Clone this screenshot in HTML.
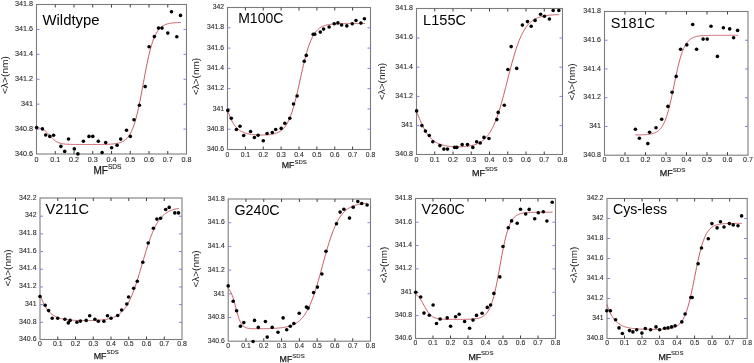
<!DOCTYPE html><html><head><meta charset="utf-8"><style>html,body{margin:0;padding:0;background:#fff;width:754px;height:363px;overflow:hidden}svg{display:block;will-change:transform}text{font-family:"Liberation Sans",sans-serif}</style></head><body>
<svg width="754" height="363" viewBox="0 0 754 363">
<rect width="754" height="363" fill="#fff"/>
<g><polyline points="36.60,127.50 37.32,127.61 38.04,127.74 38.77,127.90 39.49,128.09 40.21,128.30 40.93,128.55 41.65,128.84 42.38,129.18 43.10,129.56 43.82,129.99 44.54,130.48 45.26,131.02 45.99,131.62 46.71,132.27 47.43,132.97 48.15,133.70 48.87,134.47 49.60,135.26 50.32,136.05 51.04,136.84 51.76,137.61 52.48,138.35 53.21,139.05 53.93,139.70 54.65,140.31 55.37,140.86 56.09,141.35 56.82,141.79 57.54,142.18 58.26,142.52 58.98,142.81 59.70,143.07 60.43,143.29 61.15,143.48 61.87,143.64 62.59,143.78 63.31,143.89 64.04,143.99 64.76,144.07 65.48,144.14 66.20,144.20 66.92,144.25 67.65,144.29 68.37,144.32 69.09,144.35 69.81,144.38 70.53,144.40 71.26,144.41 71.98,144.43 72.70,144.44 73.42,144.45 74.14,144.46 74.87,144.46 75.59,144.47 76.31,144.47 77.03,144.48 77.75,144.48 78.48,144.48 79.20,144.49 79.92,144.49 80.64,144.49 81.36,144.49 82.09,144.49 82.81,144.49 83.53,144.49 84.25,144.49 84.97,144.49 85.70,144.49 86.42,144.49 87.14,144.49 87.86,144.49 88.58,144.49 89.31,144.49 90.03,144.49 90.75,144.49 91.47,144.49 92.19,144.49 92.92,144.48 93.64,144.48 94.36,144.48 95.08,144.48 95.80,144.47 96.53,144.47 97.25,144.47 97.97,144.46 98.69,144.46 99.41,144.45 100.14,144.45 100.86,144.44 101.58,144.43 102.30,144.42 103.02,144.41 103.75,144.40 104.47,144.38 105.19,144.36 105.91,144.35 106.63,144.33 107.36,144.30 108.08,144.27 108.80,144.24 109.52,144.21 110.24,144.17 110.97,144.12 111.69,144.07 112.41,144.01 113.13,143.94 113.85,143.87 114.58,143.78 115.30,143.68 116.02,143.57 116.74,143.44 117.46,143.30 118.19,143.14 118.91,142.95 119.63,142.74 120.35,142.50 121.07,142.23 121.80,141.93 122.52,141.58 123.24,141.19 123.96,140.75 124.68,140.25 125.41,139.69 126.13,139.06 126.85,138.35 127.57,137.55 128.29,136.66 129.02,135.66 129.74,134.54 130.46,133.29 131.18,131.91 131.90,130.38 132.63,128.68 133.35,126.82 134.07,124.78 134.79,122.56 135.51,120.14 136.24,117.53 136.96,114.72 137.68,111.72 138.40,108.54 139.12,105.18 139.85,101.67 140.57,98.02 141.29,94.25 142.01,90.40 142.73,86.49 143.46,82.55 144.18,78.62 144.90,74.73 145.62,70.91 146.34,67.19 147.07,63.60 147.79,60.15 148.51,56.86 149.23,53.76 149.95,50.84 150.68,48.12 151.40,45.59 152.12,43.26 152.84,41.11 153.56,39.15 154.29,37.36 155.01,35.74 155.73,34.28 156.45,32.95 157.17,31.76 157.90,30.70 158.62,29.74 159.34,28.89 160.06,28.13 160.78,27.46 161.51,26.86 162.23,26.32 162.95,25.85 163.67,25.43 164.39,25.06 165.12,24.73 165.84,24.45 166.56,24.19 167.28,23.96 168.00,23.77 168.73,23.59 169.45,23.44 170.17,23.30 170.89,23.18 171.61,23.07 172.34,22.98 173.06,22.90 173.78,22.83 174.50,22.76 175.22,22.71 175.95,22.66 176.67,22.61 177.39,22.58 178.11,22.54 178.83,22.51 179.56,22.49 180.28,22.47 181.00,22.45" fill="none" stroke="#c85a64" stroke-width="1" stroke-linejoin="round"/><rect x="36.50" y="4.50" width="150.00" height="149.50" fill="none" stroke="#7c7c7c" stroke-width="1.1"/><line x1="55.25" y1="154.00" x2="55.25" y2="151.00" stroke="#404040" stroke-width="1"/><line x1="55.25" y1="4.50" x2="55.25" y2="7.50" stroke="#404040" stroke-width="1"/><line x1="74.00" y1="154.00" x2="74.00" y2="151.00" stroke="#404040" stroke-width="1"/><line x1="74.00" y1="4.50" x2="74.00" y2="7.50" stroke="#404040" stroke-width="1"/><line x1="92.75" y1="154.00" x2="92.75" y2="151.00" stroke="#404040" stroke-width="1"/><line x1="92.75" y1="4.50" x2="92.75" y2="7.50" stroke="#404040" stroke-width="1"/><line x1="111.50" y1="154.00" x2="111.50" y2="151.00" stroke="#404040" stroke-width="1"/><line x1="111.50" y1="4.50" x2="111.50" y2="7.50" stroke="#404040" stroke-width="1"/><line x1="130.25" y1="154.00" x2="130.25" y2="151.00" stroke="#404040" stroke-width="1"/><line x1="130.25" y1="4.50" x2="130.25" y2="7.50" stroke="#404040" stroke-width="1"/><line x1="149.00" y1="154.00" x2="149.00" y2="151.00" stroke="#404040" stroke-width="1"/><line x1="149.00" y1="4.50" x2="149.00" y2="7.50" stroke="#404040" stroke-width="1"/><line x1="167.75" y1="154.00" x2="167.75" y2="151.00" stroke="#404040" stroke-width="1"/><line x1="167.75" y1="4.50" x2="167.75" y2="7.50" stroke="#404040" stroke-width="1"/><line x1="36.50" y1="129.08" x2="39.50" y2="129.08" stroke="#8080e8" stroke-width="1"/><line x1="186.50" y1="129.08" x2="183.50" y2="129.08" stroke="#8080e8" stroke-width="1"/><line x1="36.50" y1="104.17" x2="39.50" y2="104.17" stroke="#8080e8" stroke-width="1"/><line x1="186.50" y1="104.17" x2="183.50" y2="104.17" stroke="#8080e8" stroke-width="1"/><line x1="36.50" y1="79.25" x2="39.50" y2="79.25" stroke="#8080e8" stroke-width="1"/><line x1="186.50" y1="79.25" x2="183.50" y2="79.25" stroke="#8080e8" stroke-width="1"/><line x1="36.50" y1="54.33" x2="39.50" y2="54.33" stroke="#8080e8" stroke-width="1"/><line x1="186.50" y1="54.33" x2="183.50" y2="54.33" stroke="#8080e8" stroke-width="1"/><line x1="36.50" y1="29.42" x2="39.50" y2="29.42" stroke="#8080e8" stroke-width="1"/><line x1="186.50" y1="29.42" x2="183.50" y2="29.42" stroke="#8080e8" stroke-width="1"/><circle cx="36.6" cy="127.6" r="1.80" fill="#000"/><circle cx="42.4" cy="128.9" r="1.80" fill="#000"/><circle cx="45.7" cy="135.0" r="1.80" fill="#000"/><circle cx="49.8" cy="136.4" r="1.80" fill="#000"/><circle cx="53.6" cy="135.2" r="1.80" fill="#000"/><circle cx="60.9" cy="146.4" r="1.80" fill="#000"/><circle cx="64.7" cy="151.4" r="1.80" fill="#000"/><circle cx="68.5" cy="139.0" r="1.80" fill="#000"/><circle cx="74.3" cy="148.9" r="1.80" fill="#000"/><circle cx="77.9" cy="153.9" r="1.80" fill="#000"/><circle cx="83.4" cy="141.3" r="1.80" fill="#000"/><circle cx="89.0" cy="136.4" r="1.80" fill="#000"/><circle cx="92.8" cy="136.4" r="1.80" fill="#000"/><circle cx="98.3" cy="141.3" r="1.80" fill="#000"/><circle cx="102.1" cy="152.6" r="1.80" fill="#000"/><circle cx="105.7" cy="142.6" r="1.80" fill="#000"/><circle cx="111.6" cy="147.7" r="1.80" fill="#000"/><circle cx="117.1" cy="145.2" r="1.80" fill="#000"/><circle cx="120.7" cy="139.1" r="1.80" fill="#000"/><circle cx="126.5" cy="130.3" r="1.80" fill="#000"/><circle cx="130.3" cy="136.4" r="1.80" fill="#000"/><circle cx="134.0" cy="119.8" r="1.80" fill="#000"/><circle cx="139.4" cy="105.3" r="1.80" fill="#000"/><circle cx="145.2" cy="86.6" r="1.80" fill="#000"/><circle cx="149.1" cy="46.7" r="1.80" fill="#000"/><circle cx="154.4" cy="36.6" r="1.80" fill="#000"/><circle cx="158.5" cy="28.1" r="1.80" fill="#000"/><circle cx="162.0" cy="28.1" r="1.80" fill="#000"/><circle cx="167.8" cy="33.1" r="1.80" fill="#000"/><circle cx="171.5" cy="11.7" r="1.80" fill="#000"/><circle cx="176.8" cy="36.7" r="1.80" fill="#000"/><circle cx="180.5" cy="15.4" r="1.80" fill="#000"/><text font-size="7.20" fill="#2a2a2a" stroke="#2a2a2a" stroke-width="0.10" text-anchor="middle" transform="translate(36.50,162.20) scale(1,1.100)">0</text><text font-size="7.20" fill="#2a2a2a" stroke="#2a2a2a" stroke-width="0.10" text-anchor="middle" transform="translate(55.25,162.20) scale(1,1.100)">0.1</text><text font-size="7.20" fill="#2a2a2a" stroke="#2a2a2a" stroke-width="0.10" text-anchor="middle" transform="translate(74.00,162.20) scale(1,1.100)">0.2</text><text font-size="7.20" fill="#2a2a2a" stroke="#2a2a2a" stroke-width="0.10" text-anchor="middle" transform="translate(92.75,162.20) scale(1,1.100)">0.3</text><text font-size="7.20" fill="#2a2a2a" stroke="#2a2a2a" stroke-width="0.10" text-anchor="middle" transform="translate(111.50,162.20) scale(1,1.100)">0.4</text><text font-size="7.20" fill="#2a2a2a" stroke="#2a2a2a" stroke-width="0.10" text-anchor="middle" transform="translate(130.25,162.20) scale(1,1.100)">0.5</text><text font-size="7.20" fill="#2a2a2a" stroke="#2a2a2a" stroke-width="0.10" text-anchor="middle" transform="translate(149.00,162.20) scale(1,1.100)">0.6</text><text font-size="7.20" fill="#2a2a2a" stroke="#2a2a2a" stroke-width="0.10" text-anchor="middle" transform="translate(167.75,162.20) scale(1,1.100)">0.7</text><text font-size="7.20" fill="#2a2a2a" stroke="#2a2a2a" stroke-width="0.10" text-anchor="middle" transform="translate(186.50,162.20) scale(1,1.100)">0.8</text><text font-size="7.20" fill="#2a2a2a" stroke="#2a2a2a" stroke-width="0.10" text-anchor="end" transform="translate(33.00,155.70) scale(1,1.100)">340.6</text><text font-size="7.20" fill="#2a2a2a" stroke="#2a2a2a" stroke-width="0.10" text-anchor="end" transform="translate(33.00,130.78) scale(1,1.100)">340.8</text><text font-size="7.20" fill="#2a2a2a" stroke="#2a2a2a" stroke-width="0.10" text-anchor="end" transform="translate(33.00,105.87) scale(1,1.100)">341</text><text font-size="7.20" fill="#2a2a2a" stroke="#2a2a2a" stroke-width="0.10" text-anchor="end" transform="translate(33.00,80.95) scale(1,1.100)">341.2</text><text font-size="7.20" fill="#2a2a2a" stroke="#2a2a2a" stroke-width="0.10" text-anchor="end" transform="translate(33.00,56.03) scale(1,1.100)">341.4</text><text font-size="7.20" fill="#2a2a2a" stroke="#2a2a2a" stroke-width="0.10" text-anchor="end" transform="translate(33.00,31.12) scale(1,1.100)">341.6</text><text font-size="7.20" fill="#2a2a2a" stroke="#2a2a2a" stroke-width="0.10" text-anchor="end" transform="translate(33.00,6.20) scale(1,1.100)">341.8</text><text x="42.50" y="25.40" font-size="14.90" fill="#000">Wildtype</text><text x="93.50" y="173.70" font-size="10.00" fill="#1a1a1a" stroke="#1a1a1a" stroke-width="0.25">MF<tspan font-size="6.60" dy="-5.10" stroke-width="0.08">SDS</tspan></text><text x="0" y="0" font-size="10.00" fill="#1a1a1a" text-anchor="middle" dominant-baseline="central" transform="translate(4.90,75.00) rotate(-90) scale(1.02,0.88)">&lt;&#955;&gt;(nm)</text></g>
<g><polyline points="227.80,110.40 228.49,112.59 229.17,114.60 229.86,116.43 230.55,118.09 231.23,119.62 231.92,121.01 232.61,122.27 233.29,123.43 233.98,124.48 234.67,125.45 235.35,126.33 236.04,127.13 236.72,127.86 237.41,128.53 238.10,129.14 238.78,129.69 239.47,130.20 240.16,130.66 240.84,131.08 241.53,131.47 242.22,131.82 242.90,132.14 243.59,132.43 244.28,132.70 244.96,132.94 245.65,133.16 246.34,133.36 247.02,133.54 247.71,133.71 248.40,133.86 249.08,134.00 249.77,134.13 250.45,134.24 251.14,134.34 251.83,134.44 252.51,134.52 253.20,134.59 253.89,134.66 254.57,134.72 255.26,134.78 255.95,134.82 256.63,134.86 257.32,134.90 258.01,134.93 258.69,134.95 259.38,134.97 260.07,134.99 260.75,135.00 261.44,135.00 262.12,135.00 262.81,135.00 263.50,134.99 264.18,134.97 264.87,134.95 265.56,134.92 266.24,134.89 266.93,134.85 267.62,134.80 268.30,134.74 268.99,134.68 269.68,134.60 270.36,134.52 271.05,134.42 271.74,134.31 272.42,134.19 273.11,134.05 273.80,133.89 274.48,133.72 275.17,133.53 275.86,133.31 276.54,133.06 277.23,132.79 277.91,132.49 278.60,132.15 279.29,131.78 279.97,131.37 280.66,130.91 281.35,130.39 282.03,129.83 282.72,129.21 283.41,128.52 284.09,127.76 284.78,126.92 285.47,126.00 286.15,125.00 286.84,123.89 287.53,122.69 288.21,121.38 288.90,119.95 289.59,118.41 290.27,116.74 290.96,114.95 291.64,113.02 292.33,110.96 293.02,108.77 293.70,106.45 294.39,104.00 295.08,101.43 295.76,98.75 296.45,95.96 297.14,93.08 297.82,90.12 298.51,87.10 299.20,84.03 299.88,80.93 300.57,77.83 301.26,74.74 301.94,71.67 302.63,68.65 303.32,65.70 304.00,62.82 304.69,60.04 305.37,57.37 306.06,54.81 306.75,52.37 307.43,50.05 308.12,47.87 308.81,45.82 309.49,43.91 310.18,42.12 310.87,40.46 311.55,38.93 312.24,37.51 312.93,36.21 313.61,35.01 314.30,33.91 314.99,32.91 315.67,32.00 316.36,31.17 317.05,30.41 317.73,29.73 318.42,29.11 319.10,28.54 319.79,28.04 320.48,27.58 321.16,27.16 321.85,26.79 322.54,26.45 323.22,26.15 323.91,25.88 324.60,25.63 325.28,25.41 325.97,25.22 326.66,25.04 327.34,24.88 328.03,24.74 328.72,24.61 329.40,24.49 330.09,24.39 330.77,24.30 331.46,24.21 332.15,24.14 332.83,24.07 333.52,24.01 334.21,23.96 334.89,23.91 335.58,23.87 336.27,23.83 336.95,23.79 337.64,23.76 338.33,23.74 339.01,23.71 339.70,23.69 340.39,23.67 341.07,23.65 341.76,23.64 342.45,23.62 343.13,23.61 343.82,23.60 344.50,23.59 345.19,23.58 345.88,23.57 346.56,23.56 347.25,23.56 347.94,23.55 348.62,23.54 349.31,23.54 350.00,23.54 350.68,23.53 351.37,23.53 352.06,23.53 352.74,23.52 353.43,23.52 354.12,23.52 354.80,23.52 355.49,23.51 356.18,23.51 356.86,23.51 357.55,23.51 358.24,23.51 358.92,23.51 359.61,23.51 360.29,23.51 360.98,23.51 361.67,23.51 362.35,23.50 363.04,23.50 363.73,23.50 364.41,23.50 365.10,23.50" fill="none" stroke="#c85a64" stroke-width="1" stroke-linejoin="round"/><rect x="227.50" y="7.50" width="143.00" height="142.00" fill="none" stroke="#7c7c7c" stroke-width="1.1"/><line x1="245.38" y1="149.50" x2="245.38" y2="146.50" stroke="#404040" stroke-width="1"/><line x1="245.38" y1="7.50" x2="245.38" y2="10.50" stroke="#404040" stroke-width="1"/><line x1="263.25" y1="149.50" x2="263.25" y2="146.50" stroke="#404040" stroke-width="1"/><line x1="263.25" y1="7.50" x2="263.25" y2="10.50" stroke="#404040" stroke-width="1"/><line x1="281.12" y1="149.50" x2="281.12" y2="146.50" stroke="#404040" stroke-width="1"/><line x1="281.12" y1="7.50" x2="281.12" y2="10.50" stroke="#404040" stroke-width="1"/><line x1="299.00" y1="149.50" x2="299.00" y2="146.50" stroke="#404040" stroke-width="1"/><line x1="299.00" y1="7.50" x2="299.00" y2="10.50" stroke="#404040" stroke-width="1"/><line x1="316.88" y1="149.50" x2="316.88" y2="146.50" stroke="#404040" stroke-width="1"/><line x1="316.88" y1="7.50" x2="316.88" y2="10.50" stroke="#404040" stroke-width="1"/><line x1="334.75" y1="149.50" x2="334.75" y2="146.50" stroke="#404040" stroke-width="1"/><line x1="334.75" y1="7.50" x2="334.75" y2="10.50" stroke="#404040" stroke-width="1"/><line x1="352.62" y1="149.50" x2="352.62" y2="146.50" stroke="#404040" stroke-width="1"/><line x1="352.62" y1="7.50" x2="352.62" y2="10.50" stroke="#404040" stroke-width="1"/><line x1="227.50" y1="129.21" x2="230.50" y2="129.21" stroke="#8080e8" stroke-width="1"/><line x1="370.50" y1="129.21" x2="367.50" y2="129.21" stroke="#8080e8" stroke-width="1"/><line x1="227.50" y1="108.93" x2="230.50" y2="108.93" stroke="#8080e8" stroke-width="1"/><line x1="370.50" y1="108.93" x2="367.50" y2="108.93" stroke="#8080e8" stroke-width="1"/><line x1="227.50" y1="88.64" x2="230.50" y2="88.64" stroke="#8080e8" stroke-width="1"/><line x1="370.50" y1="88.64" x2="367.50" y2="88.64" stroke="#8080e8" stroke-width="1"/><line x1="227.50" y1="68.36" x2="230.50" y2="68.36" stroke="#8080e8" stroke-width="1"/><line x1="370.50" y1="68.36" x2="367.50" y2="68.36" stroke="#8080e8" stroke-width="1"/><line x1="227.50" y1="48.07" x2="230.50" y2="48.07" stroke="#8080e8" stroke-width="1"/><line x1="370.50" y1="48.07" x2="367.50" y2="48.07" stroke="#8080e8" stroke-width="1"/><line x1="227.50" y1="27.79" x2="230.50" y2="27.79" stroke="#8080e8" stroke-width="1"/><line x1="370.50" y1="27.79" x2="367.50" y2="27.79" stroke="#8080e8" stroke-width="1"/><circle cx="227.8" cy="110.4" r="1.80" fill="#000"/><circle cx="231.3" cy="118.3" r="1.80" fill="#000"/><circle cx="236.4" cy="129.5" r="1.80" fill="#000"/><circle cx="240.0" cy="126.2" r="1.80" fill="#000"/><circle cx="243.7" cy="135.5" r="1.80" fill="#000"/><circle cx="250.6" cy="131.5" r="1.80" fill="#000"/><circle cx="254.4" cy="137.5" r="1.80" fill="#000"/><circle cx="258.1" cy="135.3" r="1.80" fill="#000"/><circle cx="263.3" cy="140.8" r="1.80" fill="#000"/><circle cx="267.1" cy="133.5" r="1.80" fill="#000"/><circle cx="272.3" cy="132.5" r="1.80" fill="#000"/><circle cx="275.7" cy="129.5" r="1.80" fill="#000"/><circle cx="281.2" cy="128.4" r="1.80" fill="#000"/><circle cx="284.8" cy="123.3" r="1.80" fill="#000"/><circle cx="289.8" cy="118.3" r="1.80" fill="#000"/><circle cx="293.5" cy="104.0" r="1.80" fill="#000"/><circle cx="297.1" cy="96.0" r="1.80" fill="#000"/><circle cx="304.2" cy="61.3" r="1.80" fill="#000"/><circle cx="306.3" cy="55.4" r="1.80" fill="#000"/><circle cx="313.2" cy="34.2" r="1.80" fill="#000"/><circle cx="314.7" cy="34.2" r="1.80" fill="#000"/><circle cx="320.3" cy="32.1" r="1.80" fill="#000"/><circle cx="323.6" cy="29.1" r="1.80" fill="#000"/><circle cx="329.1" cy="27.0" r="1.80" fill="#000"/><circle cx="334.2" cy="23.8" r="1.80" fill="#000"/><circle cx="337.9" cy="22.9" r="1.80" fill="#000"/><circle cx="341.6" cy="25.0" r="1.80" fill="#000"/><circle cx="346.8" cy="25.9" r="1.80" fill="#000"/><circle cx="352.3" cy="23.7" r="1.80" fill="#000"/><circle cx="356.0" cy="20.5" r="1.80" fill="#000"/><circle cx="360.9" cy="23.1" r="1.80" fill="#000"/><circle cx="364.4" cy="18.7" r="1.80" fill="#000"/><text font-size="6.80" fill="#2a2a2a" stroke="#2a2a2a" stroke-width="0.10" text-anchor="middle" transform="translate(227.50,156.70) scale(1,1.100)">0</text><text font-size="6.80" fill="#2a2a2a" stroke="#2a2a2a" stroke-width="0.10" text-anchor="middle" transform="translate(245.38,156.70) scale(1,1.100)">0.1</text><text font-size="6.80" fill="#2a2a2a" stroke="#2a2a2a" stroke-width="0.10" text-anchor="middle" transform="translate(263.25,156.70) scale(1,1.100)">0.2</text><text font-size="6.80" fill="#2a2a2a" stroke="#2a2a2a" stroke-width="0.10" text-anchor="middle" transform="translate(281.12,156.70) scale(1,1.100)">0.3</text><text font-size="6.80" fill="#2a2a2a" stroke="#2a2a2a" stroke-width="0.10" text-anchor="middle" transform="translate(299.00,156.70) scale(1,1.100)">0.4</text><text font-size="6.80" fill="#2a2a2a" stroke="#2a2a2a" stroke-width="0.10" text-anchor="middle" transform="translate(316.88,156.70) scale(1,1.100)">0.5</text><text font-size="6.80" fill="#2a2a2a" stroke="#2a2a2a" stroke-width="0.10" text-anchor="middle" transform="translate(334.75,156.70) scale(1,1.100)">0.6</text><text font-size="6.80" fill="#2a2a2a" stroke="#2a2a2a" stroke-width="0.10" text-anchor="middle" transform="translate(352.62,156.70) scale(1,1.100)">0.7</text><text font-size="6.80" fill="#2a2a2a" stroke="#2a2a2a" stroke-width="0.10" text-anchor="middle" transform="translate(370.50,156.70) scale(1,1.100)">0.8</text><text font-size="6.80" fill="#2a2a2a" stroke="#2a2a2a" stroke-width="0.10" text-anchor="end" transform="translate(224.00,151.20) scale(1,1.100)">340.6</text><text font-size="6.80" fill="#2a2a2a" stroke="#2a2a2a" stroke-width="0.10" text-anchor="end" transform="translate(224.00,130.91) scale(1,1.100)">340.8</text><text font-size="6.80" fill="#2a2a2a" stroke="#2a2a2a" stroke-width="0.10" text-anchor="end" transform="translate(224.00,110.63) scale(1,1.100)">341</text><text font-size="6.80" fill="#2a2a2a" stroke="#2a2a2a" stroke-width="0.10" text-anchor="end" transform="translate(224.00,90.34) scale(1,1.100)">341.2</text><text font-size="6.80" fill="#2a2a2a" stroke="#2a2a2a" stroke-width="0.10" text-anchor="end" transform="translate(224.00,70.06) scale(1,1.100)">341.4</text><text font-size="6.80" fill="#2a2a2a" stroke="#2a2a2a" stroke-width="0.10" text-anchor="end" transform="translate(224.00,49.77) scale(1,1.100)">341.6</text><text font-size="6.80" fill="#2a2a2a" stroke="#2a2a2a" stroke-width="0.10" text-anchor="end" transform="translate(224.00,29.49) scale(1,1.100)">341.8</text><text font-size="6.80" fill="#2a2a2a" stroke="#2a2a2a" stroke-width="0.10" text-anchor="end" transform="translate(224.00,9.20) scale(1,1.100)">342</text><text x="238.20" y="22.90" font-size="14.00" fill="#000">M100C</text><text x="281.70" y="168.20" font-size="8.80" fill="#1a1a1a" stroke="#1a1a1a" stroke-width="0.25">MF<tspan font-size="6.00" dy="-4.50" stroke-width="0.08">SDS</tspan></text><text x="0" y="0" font-size="9.80" fill="#1a1a1a" text-anchor="middle" dominant-baseline="central" transform="translate(196.30,76.50) rotate(-90) scale(1.02,0.88)">&lt;&#955;&gt;(nm)</text></g>
<g><polyline points="416.60,111.55 417.31,113.39 418.03,115.20 418.74,116.98 419.45,118.70 420.16,120.38 420.88,122.00 421.59,123.57 422.30,125.07 423.01,126.51 423.73,127.89 424.44,129.21 425.15,130.45 425.86,131.64 426.58,132.75 427.29,133.81 428.00,134.80 428.71,135.73 429.43,136.61 430.14,137.42 430.85,138.19 431.56,138.90 432.28,139.56 432.99,140.18 433.70,140.75 434.41,141.28 435.12,141.77 435.84,142.22 436.55,142.64 437.26,143.03 437.98,143.39 438.69,143.72 439.40,144.02 440.11,144.30 440.83,144.55 441.54,144.79 442.25,145.00 442.96,145.20 443.68,145.38 444.39,145.54 445.10,145.69 445.81,145.83 446.53,145.96 447.24,146.07 447.95,146.17 448.66,146.26 449.38,146.34 450.09,146.42 450.80,146.48 451.51,146.54 452.23,146.59 452.94,146.63 453.65,146.67 454.36,146.70 455.08,146.73 455.79,146.74 456.50,146.76 457.21,146.76 457.93,146.77 458.64,146.76 459.35,146.75 460.06,146.74 460.78,146.72 461.49,146.69 462.20,146.66 462.91,146.62 463.62,146.58 464.34,146.53 465.05,146.47 465.76,146.40 466.48,146.33 467.19,146.25 467.90,146.16 468.61,146.06 469.33,145.95 470.04,145.83 470.75,145.70 471.46,145.55 472.18,145.40 472.89,145.23 473.60,145.04 474.31,144.83 475.03,144.61 475.74,144.37 476.45,144.11 477.16,143.82 477.88,143.51 478.59,143.18 479.30,142.82 480.01,142.42 480.73,142.00 481.44,141.54 482.15,141.04 482.86,140.51 483.58,139.93 484.29,139.31 485.00,138.63 485.71,137.91 486.43,137.13 487.14,136.30 487.85,135.40 488.56,134.44 489.28,133.42 489.99,132.32 490.70,131.15 491.41,129.90 492.12,128.57 492.84,127.16 493.55,125.66 494.26,124.07 494.98,122.40 495.69,120.63 496.40,118.78 497.11,116.83 497.83,114.79 498.54,112.67 499.25,110.45 499.96,108.15 500.68,105.77 501.39,103.32 502.10,100.79 502.81,98.20 503.53,95.55 504.24,92.85 504.95,90.11 505.66,87.34 506.38,84.55 507.09,81.74 507.80,78.93 508.51,76.12 509.23,73.34 509.94,70.58 510.65,67.85 511.36,65.17 512.08,62.55 512.79,59.98 513.50,57.48 514.21,55.06 514.93,52.71 515.64,50.44 516.35,48.26 517.06,46.17 517.77,44.17 518.49,42.26 519.20,40.44 519.91,38.71 520.62,37.07 521.34,35.52 522.05,34.06 522.76,32.68 523.48,31.38 524.19,30.17 524.90,29.02 525.61,27.95 526.33,26.95 527.04,26.02 527.75,25.15 528.46,24.34 529.18,23.58 529.89,22.88 530.60,22.22 531.31,21.62 532.02,21.06 532.74,20.53 533.45,20.05 534.16,19.60 534.88,19.19 535.59,18.81 536.30,18.45 537.01,18.13 537.73,17.83 538.44,17.55 539.15,17.29 539.86,17.05 540.58,16.83 541.29,16.63 542.00,16.45 542.71,16.28 543.43,16.12 544.14,15.97 544.85,15.84 545.56,15.72 546.28,15.60 546.99,15.50 547.70,15.40 548.41,15.31 549.12,15.23 549.84,15.16 550.55,15.09 551.26,15.02 551.98,14.97 552.69,14.91 553.40,14.86 554.11,14.82 554.83,14.78 555.54,14.74 556.25,14.70 556.96,14.67 557.67,14.64 558.39,14.61 559.10,14.59" fill="none" stroke="#c85a64" stroke-width="1" stroke-linejoin="round"/><rect x="416.50" y="8.50" width="146.00" height="146.00" fill="none" stroke="#7c7c7c" stroke-width="1.1"/><line x1="434.75" y1="154.50" x2="434.75" y2="151.50" stroke="#404040" stroke-width="1"/><line x1="434.75" y1="8.50" x2="434.75" y2="11.50" stroke="#404040" stroke-width="1"/><line x1="453.00" y1="154.50" x2="453.00" y2="151.50" stroke="#404040" stroke-width="1"/><line x1="453.00" y1="8.50" x2="453.00" y2="11.50" stroke="#404040" stroke-width="1"/><line x1="471.25" y1="154.50" x2="471.25" y2="151.50" stroke="#404040" stroke-width="1"/><line x1="471.25" y1="8.50" x2="471.25" y2="11.50" stroke="#404040" stroke-width="1"/><line x1="489.50" y1="154.50" x2="489.50" y2="151.50" stroke="#404040" stroke-width="1"/><line x1="489.50" y1="8.50" x2="489.50" y2="11.50" stroke="#404040" stroke-width="1"/><line x1="507.75" y1="154.50" x2="507.75" y2="151.50" stroke="#404040" stroke-width="1"/><line x1="507.75" y1="8.50" x2="507.75" y2="11.50" stroke="#404040" stroke-width="1"/><line x1="526.00" y1="154.50" x2="526.00" y2="151.50" stroke="#404040" stroke-width="1"/><line x1="526.00" y1="8.50" x2="526.00" y2="11.50" stroke="#404040" stroke-width="1"/><line x1="544.25" y1="154.50" x2="544.25" y2="151.50" stroke="#404040" stroke-width="1"/><line x1="544.25" y1="8.50" x2="544.25" y2="11.50" stroke="#404040" stroke-width="1"/><line x1="416.50" y1="125.60" x2="419.50" y2="125.60" stroke="#8080e8" stroke-width="1"/><line x1="562.50" y1="125.60" x2="559.50" y2="125.60" stroke="#8080e8" stroke-width="1"/><line x1="416.50" y1="96.40" x2="419.50" y2="96.40" stroke="#8080e8" stroke-width="1"/><line x1="562.50" y1="96.40" x2="559.50" y2="96.40" stroke="#8080e8" stroke-width="1"/><line x1="416.50" y1="67.20" x2="419.50" y2="67.20" stroke="#8080e8" stroke-width="1"/><line x1="562.50" y1="67.20" x2="559.50" y2="67.20" stroke="#8080e8" stroke-width="1"/><line x1="416.50" y1="38.00" x2="419.50" y2="38.00" stroke="#8080e8" stroke-width="1"/><line x1="562.50" y1="38.00" x2="559.50" y2="38.00" stroke="#8080e8" stroke-width="1"/><circle cx="416.6" cy="110.9" r="1.80" fill="#000"/><circle cx="421.9" cy="125.6" r="1.80" fill="#000"/><circle cx="425.4" cy="131.1" r="1.80" fill="#000"/><circle cx="429.3" cy="135.5" r="1.80" fill="#000"/><circle cx="432.8" cy="141.7" r="1.80" fill="#000"/><circle cx="439.9" cy="145.6" r="1.80" fill="#000"/><circle cx="443.9" cy="149.1" r="1.80" fill="#000"/><circle cx="447.5" cy="149.1" r="1.80" fill="#000"/><circle cx="454.6" cy="147.4" r="1.80" fill="#000"/><circle cx="456.8" cy="147.4" r="1.80" fill="#000"/><circle cx="462.2" cy="144.6" r="1.80" fill="#000"/><circle cx="467.5" cy="144.6" r="1.80" fill="#000"/><circle cx="472.8" cy="147.4" r="1.80" fill="#000"/><circle cx="476.6" cy="141.7" r="1.80" fill="#000"/><circle cx="480.2" cy="143.0" r="1.80" fill="#000"/><circle cx="484.0" cy="137.4" r="1.80" fill="#000"/><circle cx="489.0" cy="138.5" r="1.80" fill="#000"/><circle cx="496.8" cy="119.6" r="1.80" fill="#000"/><circle cx="498.2" cy="112.4" r="1.80" fill="#000"/><circle cx="504.3" cy="105.3" r="1.80" fill="#000"/><circle cx="507.9" cy="69.5" r="1.80" fill="#000"/><circle cx="511.2" cy="46.6" r="1.80" fill="#000"/><circle cx="516.7" cy="68.4" r="1.80" fill="#000"/><circle cx="522.4" cy="25.1" r="1.80" fill="#000"/><circle cx="527.5" cy="21.6" r="1.80" fill="#000"/><circle cx="531.2" cy="26.2" r="1.80" fill="#000"/><circle cx="535.1" cy="20.4" r="1.80" fill="#000"/><circle cx="540.6" cy="14.3" r="1.80" fill="#000"/><circle cx="544.4" cy="16.2" r="1.80" fill="#000"/><circle cx="549.4" cy="19.0" r="1.80" fill="#000"/><circle cx="553.2" cy="10.5" r="1.80" fill="#000"/><circle cx="558.8" cy="10.5" r="1.80" fill="#000"/><text font-size="7.10" fill="#2a2a2a" stroke="#2a2a2a" stroke-width="0.10" text-anchor="middle" transform="translate(416.50,162.00) scale(1,1.100)">0</text><text font-size="7.10" fill="#2a2a2a" stroke="#2a2a2a" stroke-width="0.10" text-anchor="middle" transform="translate(434.75,162.00) scale(1,1.100)">0.1</text><text font-size="7.10" fill="#2a2a2a" stroke="#2a2a2a" stroke-width="0.10" text-anchor="middle" transform="translate(453.00,162.00) scale(1,1.100)">0.2</text><text font-size="7.10" fill="#2a2a2a" stroke="#2a2a2a" stroke-width="0.10" text-anchor="middle" transform="translate(471.25,162.00) scale(1,1.100)">0.3</text><text font-size="7.10" fill="#2a2a2a" stroke="#2a2a2a" stroke-width="0.10" text-anchor="middle" transform="translate(489.50,162.00) scale(1,1.100)">0.4</text><text font-size="7.10" fill="#2a2a2a" stroke="#2a2a2a" stroke-width="0.10" text-anchor="middle" transform="translate(507.75,162.00) scale(1,1.100)">0.5</text><text font-size="7.10" fill="#2a2a2a" stroke="#2a2a2a" stroke-width="0.10" text-anchor="middle" transform="translate(526.00,162.00) scale(1,1.100)">0.6</text><text font-size="7.10" fill="#2a2a2a" stroke="#2a2a2a" stroke-width="0.10" text-anchor="middle" transform="translate(544.25,162.00) scale(1,1.100)">0.7</text><text font-size="7.10" fill="#2a2a2a" stroke="#2a2a2a" stroke-width="0.10" text-anchor="middle" transform="translate(562.50,162.00) scale(1,1.100)">0.8</text><text font-size="7.10" fill="#2a2a2a" stroke="#2a2a2a" stroke-width="0.10" text-anchor="end" transform="translate(413.00,156.20) scale(1,1.100)">340.8</text><text font-size="7.10" fill="#2a2a2a" stroke="#2a2a2a" stroke-width="0.10" text-anchor="end" transform="translate(413.00,127.00) scale(1,1.100)">341</text><text font-size="7.10" fill="#2a2a2a" stroke="#2a2a2a" stroke-width="0.10" text-anchor="end" transform="translate(413.00,97.80) scale(1,1.100)">341.2</text><text font-size="7.10" fill="#2a2a2a" stroke="#2a2a2a" stroke-width="0.10" text-anchor="end" transform="translate(413.00,68.60) scale(1,1.100)">341.4</text><text font-size="7.10" fill="#2a2a2a" stroke="#2a2a2a" stroke-width="0.10" text-anchor="end" transform="translate(413.00,39.40) scale(1,1.100)">341.6</text><text font-size="7.10" fill="#2a2a2a" stroke="#2a2a2a" stroke-width="0.10" text-anchor="end" transform="translate(413.00,10.20) scale(1,1.100)">341.8</text><text x="423.10" y="24.90" font-size="14.60" fill="#000">L155C</text><text x="472.00" y="175.60" font-size="9.00" fill="#1a1a1a" stroke="#1a1a1a" stroke-width="0.25">MF<tspan font-size="6.20" dy="-4.50" stroke-width="0.08">SDS</tspan></text><text x="0" y="0" font-size="9.80" fill="#1a1a1a" text-anchor="middle" dominant-baseline="central" transform="translate(382.50,81.50) rotate(-90) scale(1.02,0.88)">&lt;&#955;&gt;(nm)</text></g>
<g><polyline points="635.40,134.95 635.91,134.95 636.42,134.94 636.94,134.93 637.45,134.93 637.96,134.92 638.47,134.91 638.98,134.90 639.50,134.89 640.01,134.88 640.52,134.87 641.03,134.85 641.54,134.84 642.06,134.82 642.57,134.80 643.08,134.78 643.59,134.76 644.10,134.73 644.62,134.70 645.13,134.67 645.64,134.64 646.15,134.60 646.66,134.56 647.18,134.51 647.69,134.46 648.20,134.40 648.71,134.34 649.22,134.27 649.74,134.19 650.25,134.11 650.76,134.01 651.27,133.91 651.78,133.79 652.30,133.67 652.81,133.53 653.32,133.37 653.83,133.20 654.34,133.02 654.86,132.81 655.37,132.58 655.88,132.33 656.39,132.06 656.90,131.75 657.42,131.42 657.93,131.06 658.44,130.66 658.95,130.22 659.46,129.73 659.98,129.21 660.49,128.63 661.00,128.00 661.51,127.32 662.02,126.57 662.54,125.76 663.05,124.87 663.56,123.92 664.07,122.88 664.58,121.77 665.10,120.56 665.61,119.27 666.12,117.89 666.63,116.41 667.14,114.83 667.66,113.16 668.17,111.39 668.68,109.52 669.19,107.56 669.70,105.50 670.22,103.36 670.73,101.14 671.24,98.85 671.75,96.49 672.26,94.08 672.78,91.62 673.29,89.13 673.80,86.62 674.31,84.11 674.82,81.60 675.34,79.10 675.85,76.64 676.36,74.22 676.87,71.85 677.38,69.55 677.90,67.31 678.41,65.16 678.92,63.09 679.43,61.11 679.94,59.23 680.46,57.44 680.97,55.75 681.48,54.16 681.99,52.66 682.50,51.26 683.02,49.95 683.53,48.73 684.04,47.60 684.55,46.56 685.06,45.59 685.58,44.69 686.09,43.87 686.60,43.11 687.11,42.41 687.62,41.77 688.14,41.19 688.65,40.65 689.16,40.16 689.67,39.72 690.18,39.31 690.70,38.94 691.21,38.60 691.72,38.29 692.23,38.01 692.74,37.76 693.26,37.53 693.77,37.32 694.28,37.13 694.79,36.96 695.30,36.80 695.82,36.66 696.33,36.53 696.84,36.41 697.35,36.31 697.86,36.21 698.38,36.12 698.89,36.04 699.40,35.97 699.91,35.91 700.42,35.85 700.94,35.80 701.45,35.75 701.96,35.71 702.47,35.67 702.98,35.63 703.50,35.60 704.01,35.57 704.52,35.55 705.03,35.52 705.54,35.50 706.06,35.48 706.57,35.46 707.08,35.45 707.59,35.43 708.10,35.42 708.62,35.41 709.13,35.40 709.64,35.39 710.15,35.38 710.66,35.37 711.18,35.37 711.69,35.36 712.20,35.35 712.71,35.35 713.22,35.34 713.74,35.34 714.25,35.34 714.76,35.33 715.27,35.33 715.78,35.33 716.30,35.32 716.81,35.32 717.32,35.32 717.83,35.32 718.34,35.32 718.86,35.31 719.37,35.31 719.88,35.31 720.39,35.31 720.90,35.31 721.42,35.31 721.93,35.31 722.44,35.31 722.95,35.31 723.46,35.31 723.98,35.31 724.49,35.30 725.00,35.30 725.51,35.30 726.02,35.30 726.54,35.30 727.05,35.30 727.56,35.30 728.07,35.30 728.58,35.30 729.10,35.30 729.61,35.30 730.12,35.30 730.63,35.30 731.14,35.30 731.66,35.30 732.17,35.30 732.68,35.30 733.19,35.30 733.70,35.30 734.22,35.30 734.73,35.30 735.24,35.30 735.75,35.30 736.26,35.30 736.78,35.30 737.29,35.30 737.80,35.30" fill="none" stroke="#c85a64" stroke-width="1" stroke-linejoin="round"/><rect x="604.50" y="11.50" width="143.50" height="143.70" fill="none" stroke="#7c7c7c" stroke-width="1.1"/><line x1="625.00" y1="155.20" x2="625.00" y2="152.20" stroke="#404040" stroke-width="1"/><line x1="625.00" y1="11.50" x2="625.00" y2="14.50" stroke="#404040" stroke-width="1"/><line x1="645.50" y1="155.20" x2="645.50" y2="152.20" stroke="#404040" stroke-width="1"/><line x1="645.50" y1="11.50" x2="645.50" y2="14.50" stroke="#404040" stroke-width="1"/><line x1="666.00" y1="155.20" x2="666.00" y2="152.20" stroke="#404040" stroke-width="1"/><line x1="666.00" y1="11.50" x2="666.00" y2="14.50" stroke="#404040" stroke-width="1"/><line x1="686.50" y1="155.20" x2="686.50" y2="152.20" stroke="#404040" stroke-width="1"/><line x1="686.50" y1="11.50" x2="686.50" y2="14.50" stroke="#404040" stroke-width="1"/><line x1="707.00" y1="155.20" x2="707.00" y2="152.20" stroke="#404040" stroke-width="1"/><line x1="707.00" y1="11.50" x2="707.00" y2="14.50" stroke="#404040" stroke-width="1"/><line x1="727.50" y1="155.20" x2="727.50" y2="152.20" stroke="#404040" stroke-width="1"/><line x1="727.50" y1="11.50" x2="727.50" y2="14.50" stroke="#404040" stroke-width="1"/><line x1="604.50" y1="126.46" x2="607.50" y2="126.46" stroke="#8080e8" stroke-width="1"/><line x1="748.00" y1="126.46" x2="745.00" y2="126.46" stroke="#8080e8" stroke-width="1"/><line x1="604.50" y1="97.72" x2="607.50" y2="97.72" stroke="#8080e8" stroke-width="1"/><line x1="748.00" y1="97.72" x2="745.00" y2="97.72" stroke="#8080e8" stroke-width="1"/><line x1="604.50" y1="68.98" x2="607.50" y2="68.98" stroke="#8080e8" stroke-width="1"/><line x1="748.00" y1="68.98" x2="745.00" y2="68.98" stroke="#8080e8" stroke-width="1"/><line x1="604.50" y1="40.24" x2="607.50" y2="40.24" stroke="#8080e8" stroke-width="1"/><line x1="748.00" y1="40.24" x2="745.00" y2="40.24" stroke="#8080e8" stroke-width="1"/><circle cx="635.4" cy="129.2" r="1.80" fill="#000"/><circle cx="639.4" cy="138.2" r="1.80" fill="#000"/><circle cx="647.8" cy="143.6" r="1.80" fill="#000"/><circle cx="649.6" cy="132.2" r="1.80" fill="#000"/><circle cx="656.0" cy="127.7" r="1.80" fill="#000"/><circle cx="661.7" cy="119.3" r="1.80" fill="#000"/><circle cx="667.9" cy="106.4" r="1.80" fill="#000"/><circle cx="672.1" cy="92.3" r="1.80" fill="#000"/><circle cx="676.2" cy="76.4" r="1.80" fill="#000"/><circle cx="680.6" cy="49.3" r="1.80" fill="#000"/><circle cx="686.8" cy="44.9" r="1.80" fill="#000"/><circle cx="692.7" cy="24.5" r="1.80" fill="#000"/><circle cx="696.6" cy="49.3" r="1.80" fill="#000"/><circle cx="703.1" cy="39.1" r="1.80" fill="#000"/><circle cx="707.2" cy="39.1" r="1.80" fill="#000"/><circle cx="711.0" cy="26.2" r="1.80" fill="#000"/><circle cx="717.4" cy="56.4" r="1.80" fill="#000"/><circle cx="723.4" cy="27.7" r="1.80" fill="#000"/><circle cx="729.7" cy="28.9" r="1.80" fill="#000"/><circle cx="733.6" cy="37.7" r="1.80" fill="#000"/><circle cx="737.6" cy="30.4" r="1.80" fill="#000"/><text font-size="7.10" fill="#2a2a2a" stroke="#2a2a2a" stroke-width="0.10" text-anchor="middle" transform="translate(604.50,162.20) scale(1,1.100)">0</text><text font-size="7.10" fill="#2a2a2a" stroke="#2a2a2a" stroke-width="0.10" text-anchor="middle" transform="translate(625.00,162.20) scale(1,1.100)">0.1</text><text font-size="7.10" fill="#2a2a2a" stroke="#2a2a2a" stroke-width="0.10" text-anchor="middle" transform="translate(645.50,162.20) scale(1,1.100)">0.2</text><text font-size="7.10" fill="#2a2a2a" stroke="#2a2a2a" stroke-width="0.10" text-anchor="middle" transform="translate(666.00,162.20) scale(1,1.100)">0.3</text><text font-size="7.10" fill="#2a2a2a" stroke="#2a2a2a" stroke-width="0.10" text-anchor="middle" transform="translate(686.50,162.20) scale(1,1.100)">0.4</text><text font-size="7.10" fill="#2a2a2a" stroke="#2a2a2a" stroke-width="0.10" text-anchor="middle" transform="translate(707.00,162.20) scale(1,1.100)">0.5</text><text font-size="7.10" fill="#2a2a2a" stroke="#2a2a2a" stroke-width="0.10" text-anchor="middle" transform="translate(727.50,162.20) scale(1,1.100)">0.6</text><text font-size="7.10" fill="#2a2a2a" stroke="#2a2a2a" stroke-width="0.10" text-anchor="middle" transform="translate(748.00,162.20) scale(1,1.100)">0.7</text><text font-size="7.10" fill="#2a2a2a" stroke="#2a2a2a" stroke-width="0.10" text-anchor="end" transform="translate(601.00,156.90) scale(1,1.100)">340.8</text><text font-size="7.10" fill="#2a2a2a" stroke="#2a2a2a" stroke-width="0.10" text-anchor="end" transform="translate(601.00,128.16) scale(1,1.100)">341</text><text font-size="7.10" fill="#2a2a2a" stroke="#2a2a2a" stroke-width="0.10" text-anchor="end" transform="translate(601.00,99.42) scale(1,1.100)">341.2</text><text font-size="7.10" fill="#2a2a2a" stroke="#2a2a2a" stroke-width="0.10" text-anchor="end" transform="translate(601.00,70.68) scale(1,1.100)">341.4</text><text font-size="7.10" fill="#2a2a2a" stroke="#2a2a2a" stroke-width="0.10" text-anchor="end" transform="translate(601.00,41.94) scale(1,1.100)">341.6</text><text font-size="7.10" fill="#2a2a2a" stroke="#2a2a2a" stroke-width="0.10" text-anchor="end" transform="translate(601.00,13.20) scale(1,1.100)">341.8</text><text x="610.70" y="28.00" font-size="14.50" fill="#000">S181C</text><text x="659.70" y="175.80" font-size="9.00" fill="#1a1a1a" stroke="#1a1a1a" stroke-width="0.25">MF<tspan font-size="6.20" dy="-4.10" stroke-width="0.08">SDS</tspan></text><text x="0" y="0" font-size="9.80" fill="#1a1a1a" text-anchor="middle" dominant-baseline="central" transform="translate(572.50,82.00) rotate(-90) scale(1.02,0.88)">&lt;&#955;&gt;(nm)</text></g>
<g><polyline points="40.00,294.30 40.69,296.38 41.39,298.29 42.08,300.06 42.78,301.69 43.47,303.19 44.17,304.57 44.86,305.84 45.56,307.02 46.25,308.10 46.95,309.09 47.64,310.01 48.33,310.86 49.03,311.64 49.72,312.36 50.42,313.02 51.11,313.63 51.81,314.19 52.50,314.71 53.20,315.19 53.89,315.63 54.58,316.03 55.28,316.41 55.97,316.75 56.67,317.07 57.36,317.36 58.06,317.63 58.75,317.88 59.45,318.11 60.14,318.32 60.84,318.51 61.53,318.69 62.22,318.85 62.92,319.00 63.61,319.14 64.31,319.27 65.00,319.39 65.70,319.50 66.39,319.60 67.09,319.69 67.78,319.78 68.47,319.85 69.17,319.93 69.86,319.99 70.56,320.05 71.25,320.11 71.95,320.16 72.64,320.20 73.34,320.25 74.03,320.29 74.72,320.32 75.42,320.35 76.11,320.38 76.81,320.41 77.50,320.43 78.20,320.45 78.89,320.47 79.59,320.49 80.28,320.50 80.98,320.52 81.67,320.53 82.36,320.54 83.06,320.54 83.75,320.55 84.45,320.55 85.14,320.55 85.84,320.55 86.53,320.55 87.23,320.55 87.92,320.54 88.62,320.54 89.31,320.53 90.00,320.52 90.70,320.50 91.39,320.49 92.09,320.47 92.78,320.45 93.48,320.43 94.17,320.41 94.87,320.38 95.56,320.35 96.25,320.32 96.95,320.28 97.64,320.25 98.34,320.20 99.03,320.15 99.73,320.10 100.42,320.05 101.12,319.98 101.81,319.92 102.50,319.84 103.20,319.76 103.89,319.68 104.59,319.58 105.28,319.48 105.98,319.37 106.67,319.24 107.37,319.11 108.06,318.97 108.76,318.81 109.45,318.64 110.14,318.46 110.84,318.26 111.53,318.05 112.23,317.81 112.92,317.56 113.62,317.29 114.31,316.99 115.01,316.67 115.70,316.32 116.39,315.95 117.09,315.55 117.78,315.11 118.48,314.64 119.17,314.14 119.87,313.59 120.56,313.00 121.26,312.37 121.95,311.70 122.65,310.97 123.34,310.19 124.03,309.36 124.73,308.47 125.42,307.51 126.12,306.50 126.81,305.42 127.51,304.27 128.20,303.05 128.90,301.76 129.59,300.39 130.28,298.95 130.98,297.44 131.67,295.84 132.37,294.17 133.06,292.43 133.76,290.60 134.45,288.71 135.15,286.74 135.84,284.71 136.54,282.62 137.23,280.46 137.92,278.26 138.62,276.00 139.31,273.71 140.01,271.38 140.70,269.03 141.40,266.65 142.09,264.27 142.79,261.89 143.48,259.51 144.18,257.15 144.87,254.82 145.56,252.51 146.26,250.24 146.95,248.02 147.65,245.85 148.34,243.74 149.04,241.68 149.73,239.70 150.43,237.78 151.12,235.94 151.81,234.17 152.51,232.47 153.20,230.85 153.90,229.31 154.59,227.85 155.29,226.46 155.98,225.14 156.68,223.90 157.37,222.73 158.06,221.63 158.76,220.59 159.45,219.62 160.15,218.71 160.84,217.86 161.54,217.07 162.23,216.32 162.93,215.63 163.62,214.99 164.32,214.39 165.01,213.83 165.70,213.31 166.40,212.83 167.09,212.38 167.79,211.97 168.48,211.59 169.18,211.23 169.87,210.90 170.57,210.60 171.26,210.32 171.96,210.06 172.65,209.82 173.34,209.60 174.04,209.39 174.73,209.20 175.43,209.03 176.12,208.87 176.82,208.72 177.51,208.59 178.21,208.46 178.90,208.34" fill="none" stroke="#c85a64" stroke-width="1" stroke-linejoin="round"/><rect x="40.00" y="198.00" width="142.00" height="141.50" fill="none" stroke="#7c7c7c" stroke-width="1.1"/><line x1="57.75" y1="339.50" x2="57.75" y2="336.50" stroke="#404040" stroke-width="1"/><line x1="57.75" y1="198.00" x2="57.75" y2="201.00" stroke="#404040" stroke-width="1"/><line x1="75.50" y1="339.50" x2="75.50" y2="336.50" stroke="#404040" stroke-width="1"/><line x1="75.50" y1="198.00" x2="75.50" y2="201.00" stroke="#404040" stroke-width="1"/><line x1="93.25" y1="339.50" x2="93.25" y2="336.50" stroke="#404040" stroke-width="1"/><line x1="93.25" y1="198.00" x2="93.25" y2="201.00" stroke="#404040" stroke-width="1"/><line x1="111.00" y1="339.50" x2="111.00" y2="336.50" stroke="#404040" stroke-width="1"/><line x1="111.00" y1="198.00" x2="111.00" y2="201.00" stroke="#404040" stroke-width="1"/><line x1="128.75" y1="339.50" x2="128.75" y2="336.50" stroke="#404040" stroke-width="1"/><line x1="128.75" y1="198.00" x2="128.75" y2="201.00" stroke="#404040" stroke-width="1"/><line x1="146.50" y1="339.50" x2="146.50" y2="336.50" stroke="#404040" stroke-width="1"/><line x1="146.50" y1="198.00" x2="146.50" y2="201.00" stroke="#404040" stroke-width="1"/><line x1="164.25" y1="339.50" x2="164.25" y2="336.50" stroke="#404040" stroke-width="1"/><line x1="164.25" y1="198.00" x2="164.25" y2="201.00" stroke="#404040" stroke-width="1"/><line x1="40.00" y1="322.31" x2="43.00" y2="322.31" stroke="#8080e8" stroke-width="1"/><line x1="182.00" y1="322.31" x2="179.00" y2="322.31" stroke="#8080e8" stroke-width="1"/><line x1="40.00" y1="304.62" x2="43.00" y2="304.62" stroke="#8080e8" stroke-width="1"/><line x1="182.00" y1="304.62" x2="179.00" y2="304.62" stroke="#8080e8" stroke-width="1"/><line x1="40.00" y1="286.94" x2="43.00" y2="286.94" stroke="#8080e8" stroke-width="1"/><line x1="182.00" y1="286.94" x2="179.00" y2="286.94" stroke="#8080e8" stroke-width="1"/><line x1="40.00" y1="269.25" x2="43.00" y2="269.25" stroke="#8080e8" stroke-width="1"/><line x1="182.00" y1="269.25" x2="179.00" y2="269.25" stroke="#8080e8" stroke-width="1"/><line x1="40.00" y1="251.56" x2="43.00" y2="251.56" stroke="#8080e8" stroke-width="1"/><line x1="182.00" y1="251.56" x2="179.00" y2="251.56" stroke="#8080e8" stroke-width="1"/><line x1="40.00" y1="233.88" x2="43.00" y2="233.88" stroke="#8080e8" stroke-width="1"/><line x1="182.00" y1="233.88" x2="179.00" y2="233.88" stroke="#8080e8" stroke-width="1"/><line x1="40.00" y1="216.19" x2="43.00" y2="216.19" stroke="#8080e8" stroke-width="1"/><line x1="182.00" y1="216.19" x2="179.00" y2="216.19" stroke="#8080e8" stroke-width="1"/><circle cx="40.0" cy="296.5" r="1.80" fill="#000"/><circle cx="45.2" cy="305.2" r="1.80" fill="#000"/><circle cx="48.6" cy="310.6" r="1.80" fill="#000"/><circle cx="52.2" cy="318.3" r="1.80" fill="#000"/><circle cx="57.7" cy="318.3" r="1.80" fill="#000"/><circle cx="64.9" cy="319.2" r="1.80" fill="#000"/><circle cx="68.3" cy="322.9" r="1.80" fill="#000"/><circle cx="70.1" cy="320.4" r="1.80" fill="#000"/><circle cx="76.9" cy="322.2" r="1.80" fill="#000"/><circle cx="80.4" cy="321.1" r="1.80" fill="#000"/><circle cx="86.2" cy="320.4" r="1.80" fill="#000"/><circle cx="89.7" cy="315.8" r="1.80" fill="#000"/><circle cx="94.9" cy="319.2" r="1.80" fill="#000"/><circle cx="98.3" cy="321.3" r="1.80" fill="#000"/><circle cx="103.9" cy="321.3" r="1.80" fill="#000"/><circle cx="107.5" cy="315.7" r="1.80" fill="#000"/><circle cx="111.0" cy="318.2" r="1.80" fill="#000"/><circle cx="117.7" cy="315.5" r="1.80" fill="#000"/><circle cx="121.6" cy="310.0" r="1.80" fill="#000"/><circle cx="126.8" cy="304.0" r="1.80" fill="#000"/><circle cx="128.6" cy="297.0" r="1.80" fill="#000"/><circle cx="133.7" cy="288.3" r="1.80" fill="#000"/><circle cx="137.3" cy="281.3" r="1.80" fill="#000"/><circle cx="142.8" cy="262.3" r="1.80" fill="#000"/><circle cx="148.2" cy="243.0" r="1.80" fill="#000"/><circle cx="153.4" cy="228.3" r="1.80" fill="#000"/><circle cx="156.9" cy="219.1" r="1.80" fill="#000"/><circle cx="160.6" cy="218.3" r="1.80" fill="#000"/><circle cx="165.7" cy="209.5" r="1.80" fill="#000"/><circle cx="169.2" cy="207.4" r="1.80" fill="#000"/><circle cx="174.8" cy="212.9" r="1.80" fill="#000"/><circle cx="178.5" cy="212.9" r="1.80" fill="#000"/><text font-size="6.95" fill="#2a2a2a" stroke="#2a2a2a" stroke-width="0.10" text-anchor="middle" transform="translate(40.00,346.40) scale(1,1.100)">0</text><text font-size="6.95" fill="#2a2a2a" stroke="#2a2a2a" stroke-width="0.10" text-anchor="middle" transform="translate(57.75,346.40) scale(1,1.100)">0.1</text><text font-size="6.95" fill="#2a2a2a" stroke="#2a2a2a" stroke-width="0.10" text-anchor="middle" transform="translate(75.50,346.40) scale(1,1.100)">0.2</text><text font-size="6.95" fill="#2a2a2a" stroke="#2a2a2a" stroke-width="0.10" text-anchor="middle" transform="translate(93.25,346.40) scale(1,1.100)">0.3</text><text font-size="6.95" fill="#2a2a2a" stroke="#2a2a2a" stroke-width="0.10" text-anchor="middle" transform="translate(111.00,346.40) scale(1,1.100)">0.4</text><text font-size="6.95" fill="#2a2a2a" stroke="#2a2a2a" stroke-width="0.10" text-anchor="middle" transform="translate(128.75,346.40) scale(1,1.100)">0.5</text><text font-size="6.95" fill="#2a2a2a" stroke="#2a2a2a" stroke-width="0.10" text-anchor="middle" transform="translate(146.50,346.40) scale(1,1.100)">0.6</text><text font-size="6.95" fill="#2a2a2a" stroke="#2a2a2a" stroke-width="0.10" text-anchor="middle" transform="translate(164.25,346.40) scale(1,1.100)">0.7</text><text font-size="6.95" fill="#2a2a2a" stroke="#2a2a2a" stroke-width="0.10" text-anchor="middle" transform="translate(182.00,346.40) scale(1,1.100)">0.8</text><text font-size="6.95" fill="#2a2a2a" stroke="#2a2a2a" stroke-width="0.10" text-anchor="end" transform="translate(36.50,341.20) scale(1,1.100)">340.6</text><text font-size="6.95" fill="#2a2a2a" stroke="#2a2a2a" stroke-width="0.10" text-anchor="end" transform="translate(36.50,323.51) scale(1,1.100)">340.8</text><text font-size="6.95" fill="#2a2a2a" stroke="#2a2a2a" stroke-width="0.10" text-anchor="end" transform="translate(36.50,305.82) scale(1,1.100)">341</text><text font-size="6.95" fill="#2a2a2a" stroke="#2a2a2a" stroke-width="0.10" text-anchor="end" transform="translate(36.50,288.14) scale(1,1.100)">341.2</text><text font-size="6.95" fill="#2a2a2a" stroke="#2a2a2a" stroke-width="0.10" text-anchor="end" transform="translate(36.50,270.45) scale(1,1.100)">341.4</text><text font-size="6.95" fill="#2a2a2a" stroke="#2a2a2a" stroke-width="0.10" text-anchor="end" transform="translate(36.50,252.76) scale(1,1.100)">341.6</text><text font-size="6.95" fill="#2a2a2a" stroke="#2a2a2a" stroke-width="0.10" text-anchor="end" transform="translate(36.50,235.08) scale(1,1.100)">341.8</text><text font-size="6.95" fill="#2a2a2a" stroke="#2a2a2a" stroke-width="0.10" text-anchor="end" transform="translate(36.50,217.39) scale(1,1.100)">342</text><text font-size="6.95" fill="#2a2a2a" stroke="#2a2a2a" stroke-width="0.10" text-anchor="end" transform="translate(36.50,199.70) scale(1,1.100)">342.2</text><text x="45.60" y="213.60" font-size="14.60" fill="#000">V211C</text><text x="93.70" y="358.60" font-size="8.90" fill="#1a1a1a" stroke="#1a1a1a" stroke-width="0.25">MF<tspan font-size="6.00" dy="-4.70" stroke-width="0.08">SDS</tspan></text><text x="0" y="0" font-size="9.80" fill="#1a1a1a" text-anchor="middle" dominant-baseline="central" transform="translate(8.10,268.00) rotate(-90) scale(1.02,0.88)">&lt;&#955;&gt;(nm)</text></g>
<g><polyline points="228.20,288.56 228.89,289.27 229.59,290.15 230.28,291.22 230.98,292.51 231.67,294.04 232.36,295.82 233.06,297.84 233.75,300.10 234.45,302.56 235.14,305.15 235.83,307.81 236.53,310.45 237.22,313.00 237.92,315.38 238.61,317.56 239.30,319.49 240.00,321.17 240.69,322.60 241.39,323.80 242.08,324.79 242.77,325.61 243.47,326.26 244.16,326.79 244.86,327.21 245.55,327.54 246.24,327.81 246.94,328.02 247.63,328.18 248.33,328.31 249.02,328.41 249.71,328.49 250.41,328.55 251.10,328.59 251.80,328.63 252.49,328.66 253.18,328.68 253.88,328.69 254.57,328.70 255.27,328.71 255.96,328.71 256.65,328.72 257.35,328.72 258.04,328.72 258.74,328.71 259.43,328.71 260.12,328.70 260.82,328.70 261.51,328.69 262.21,328.68 262.90,328.68 263.59,328.67 264.29,328.65 264.98,328.64 265.68,328.63 266.37,328.62 267.06,328.60 267.76,328.58 268.45,328.57 269.15,328.55 269.84,328.53 270.53,328.50 271.23,328.48 271.92,328.45 272.62,328.42 273.31,328.39 274.00,328.36 274.70,328.32 275.39,328.28 276.09,328.23 276.78,328.19 277.47,328.14 278.17,328.08 278.86,328.02 279.56,327.95 280.25,327.88 280.94,327.81 281.64,327.72 282.33,327.63 283.03,327.54 283.72,327.43 284.41,327.32 285.11,327.20 285.80,327.06 286.50,326.92 287.19,326.76 287.88,326.59 288.58,326.41 289.27,326.21 289.97,326.00 290.66,325.77 291.35,325.52 292.05,325.26 292.74,324.97 293.44,324.66 294.13,324.32 294.82,323.96 295.52,323.57 296.21,323.14 296.91,322.69 297.60,322.21 298.29,321.68 298.99,321.12 299.68,320.51 300.38,319.87 301.07,319.17 301.76,318.43 302.46,317.63 303.15,316.78 303.85,315.88 304.54,314.91 305.23,313.88 305.93,312.78 306.62,311.62 307.32,310.38 308.01,309.07 308.70,307.69 309.40,306.23 310.09,304.70 310.79,303.08 311.48,301.39 312.17,299.61 312.87,297.76 313.56,295.83 314.26,293.82 314.95,291.74 315.64,289.59 316.34,287.38 317.03,285.10 317.73,282.76 318.42,280.37 319.11,277.94 319.81,275.47 320.50,272.96 321.20,270.43 321.89,267.89 322.58,265.34 323.28,262.79 323.97,260.25 324.67,257.73 325.36,255.23 326.05,252.77 326.75,250.35 327.44,247.97 328.14,245.65 328.83,243.38 329.52,241.18 330.22,239.05 330.91,236.98 331.61,235.00 332.30,233.09 332.99,231.25 333.69,229.50 334.38,227.82 335.08,226.23 335.77,224.71 336.46,223.27 337.16,221.90 337.85,220.61 338.55,219.40 339.24,218.25 339.93,217.17 340.63,216.15 341.32,215.20 342.02,214.31 342.71,213.47 343.40,212.69 344.10,211.95 344.79,211.27 345.49,210.64 346.18,210.04 346.87,209.49 347.57,208.97 348.26,208.50 348.96,208.05 349.65,207.64 350.34,207.25 351.04,206.90 351.73,206.57 352.43,206.26 353.12,205.98 353.81,205.71 354.51,205.47 355.20,205.24 355.90,205.04 356.59,204.84 357.28,204.66 357.98,204.50 358.67,204.35 359.37,204.20 360.06,204.07 360.75,203.95 361.45,203.84 362.14,203.74 362.84,203.64 363.53,203.56 364.22,203.47 364.92,203.40 365.61,203.33 366.31,203.27 367.00,203.21" fill="none" stroke="#c85a64" stroke-width="1" stroke-linejoin="round"/><rect x="228.20" y="199.00" width="142.30" height="142.20" fill="none" stroke="#7c7c7c" stroke-width="1.1"/><line x1="245.99" y1="341.20" x2="245.99" y2="338.20" stroke="#404040" stroke-width="1"/><line x1="245.99" y1="199.00" x2="245.99" y2="202.00" stroke="#404040" stroke-width="1"/><line x1="263.77" y1="341.20" x2="263.77" y2="338.20" stroke="#404040" stroke-width="1"/><line x1="263.77" y1="199.00" x2="263.77" y2="202.00" stroke="#404040" stroke-width="1"/><line x1="281.56" y1="341.20" x2="281.56" y2="338.20" stroke="#404040" stroke-width="1"/><line x1="281.56" y1="199.00" x2="281.56" y2="202.00" stroke="#404040" stroke-width="1"/><line x1="299.35" y1="341.20" x2="299.35" y2="338.20" stroke="#404040" stroke-width="1"/><line x1="299.35" y1="199.00" x2="299.35" y2="202.00" stroke="#404040" stroke-width="1"/><line x1="317.14" y1="341.20" x2="317.14" y2="338.20" stroke="#404040" stroke-width="1"/><line x1="317.14" y1="199.00" x2="317.14" y2="202.00" stroke="#404040" stroke-width="1"/><line x1="334.93" y1="341.20" x2="334.93" y2="338.20" stroke="#404040" stroke-width="1"/><line x1="334.93" y1="199.00" x2="334.93" y2="202.00" stroke="#404040" stroke-width="1"/><line x1="352.71" y1="341.20" x2="352.71" y2="338.20" stroke="#404040" stroke-width="1"/><line x1="352.71" y1="199.00" x2="352.71" y2="202.00" stroke="#404040" stroke-width="1"/><line x1="228.20" y1="317.50" x2="231.20" y2="317.50" stroke="#8080e8" stroke-width="1"/><line x1="370.50" y1="317.50" x2="367.50" y2="317.50" stroke="#8080e8" stroke-width="1"/><line x1="228.20" y1="293.80" x2="231.20" y2="293.80" stroke="#8080e8" stroke-width="1"/><line x1="370.50" y1="293.80" x2="367.50" y2="293.80" stroke="#8080e8" stroke-width="1"/><line x1="228.20" y1="270.10" x2="231.20" y2="270.10" stroke="#8080e8" stroke-width="1"/><line x1="370.50" y1="270.10" x2="367.50" y2="270.10" stroke="#8080e8" stroke-width="1"/><line x1="228.20" y1="246.40" x2="231.20" y2="246.40" stroke="#8080e8" stroke-width="1"/><line x1="370.50" y1="246.40" x2="367.50" y2="246.40" stroke="#8080e8" stroke-width="1"/><line x1="228.20" y1="222.70" x2="231.20" y2="222.70" stroke="#8080e8" stroke-width="1"/><line x1="370.50" y1="222.70" x2="367.50" y2="222.70" stroke="#8080e8" stroke-width="1"/><circle cx="228.2" cy="285.9" r="1.80" fill="#000"/><circle cx="233.2" cy="301.3" r="1.80" fill="#000"/><circle cx="236.6" cy="310.8" r="1.80" fill="#000"/><circle cx="240.4" cy="326.2" r="1.80" fill="#000"/><circle cx="243.8" cy="322.6" r="1.80" fill="#000"/><circle cx="253.1" cy="341.5" r="1.80" fill="#000"/><circle cx="254.5" cy="320.4" r="1.80" fill="#000"/><circle cx="258.3" cy="327.4" r="1.80" fill="#000"/><circle cx="265.4" cy="321.5" r="1.80" fill="#000"/><circle cx="267.2" cy="337.1" r="1.80" fill="#000"/><circle cx="272.2" cy="327.4" r="1.80" fill="#000"/><circle cx="278.0" cy="332.2" r="1.80" fill="#000"/><circle cx="283.1" cy="317.9" r="1.80" fill="#000"/><circle cx="286.7" cy="329.7" r="1.80" fill="#000"/><circle cx="290.3" cy="326.2" r="1.80" fill="#000"/><circle cx="293.9" cy="323.5" r="1.80" fill="#000"/><circle cx="299.2" cy="313.3" r="1.80" fill="#000"/><circle cx="306.4" cy="307.1" r="1.80" fill="#000"/><circle cx="308.1" cy="308.1" r="1.80" fill="#000"/><circle cx="313.6" cy="292.6" r="1.80" fill="#000"/><circle cx="317.4" cy="287.1" r="1.80" fill="#000"/><circle cx="321.9" cy="274.0" r="1.80" fill="#000"/><circle cx="326.0" cy="251.3" r="1.80" fill="#000"/><circle cx="336.5" cy="223.8" r="1.80" fill="#000"/><circle cx="340.1" cy="212.1" r="1.80" fill="#000"/><circle cx="343.9" cy="209.2" r="1.80" fill="#000"/><circle cx="349.5" cy="218.1" r="1.80" fill="#000"/><circle cx="353.2" cy="207.3" r="1.80" fill="#000"/><circle cx="357.8" cy="201.5" r="1.80" fill="#000"/><circle cx="361.7" cy="203.5" r="1.80" fill="#000"/><circle cx="367.1" cy="205.0" r="1.80" fill="#000"/><text font-size="6.80" fill="#2a2a2a" stroke="#2a2a2a" stroke-width="0.10" text-anchor="middle" transform="translate(228.20,348.30) scale(1,1.100)">0</text><text font-size="6.80" fill="#2a2a2a" stroke="#2a2a2a" stroke-width="0.10" text-anchor="middle" transform="translate(245.99,348.30) scale(1,1.100)">0.1</text><text font-size="6.80" fill="#2a2a2a" stroke="#2a2a2a" stroke-width="0.10" text-anchor="middle" transform="translate(263.77,348.30) scale(1,1.100)">0.2</text><text font-size="6.80" fill="#2a2a2a" stroke="#2a2a2a" stroke-width="0.10" text-anchor="middle" transform="translate(281.56,348.30) scale(1,1.100)">0.3</text><text font-size="6.80" fill="#2a2a2a" stroke="#2a2a2a" stroke-width="0.10" text-anchor="middle" transform="translate(299.35,348.30) scale(1,1.100)">0.4</text><text font-size="6.80" fill="#2a2a2a" stroke="#2a2a2a" stroke-width="0.10" text-anchor="middle" transform="translate(317.14,348.30) scale(1,1.100)">0.5</text><text font-size="6.80" fill="#2a2a2a" stroke="#2a2a2a" stroke-width="0.10" text-anchor="middle" transform="translate(334.93,348.30) scale(1,1.100)">0.6</text><text font-size="6.80" fill="#2a2a2a" stroke="#2a2a2a" stroke-width="0.10" text-anchor="middle" transform="translate(352.71,348.30) scale(1,1.100)">0.7</text><text font-size="6.80" fill="#2a2a2a" stroke="#2a2a2a" stroke-width="0.10" text-anchor="middle" transform="translate(370.50,348.30) scale(1,1.100)">0.8</text><text font-size="6.80" fill="#2a2a2a" stroke="#2a2a2a" stroke-width="0.10" text-anchor="end" transform="translate(224.70,342.90) scale(1,1.100)">340.6</text><text font-size="6.80" fill="#2a2a2a" stroke="#2a2a2a" stroke-width="0.10" text-anchor="end" transform="translate(224.70,319.20) scale(1,1.100)">340.8</text><text font-size="6.80" fill="#2a2a2a" stroke="#2a2a2a" stroke-width="0.10" text-anchor="end" transform="translate(224.70,295.50) scale(1,1.100)">341</text><text font-size="6.80" fill="#2a2a2a" stroke="#2a2a2a" stroke-width="0.10" text-anchor="end" transform="translate(224.70,271.80) scale(1,1.100)">341.2</text><text font-size="6.80" fill="#2a2a2a" stroke="#2a2a2a" stroke-width="0.10" text-anchor="end" transform="translate(224.70,248.10) scale(1,1.100)">341.4</text><text font-size="6.80" fill="#2a2a2a" stroke="#2a2a2a" stroke-width="0.10" text-anchor="end" transform="translate(224.70,224.40) scale(1,1.100)">341.6</text><text font-size="6.80" fill="#2a2a2a" stroke="#2a2a2a" stroke-width="0.10" text-anchor="end" transform="translate(224.70,200.70) scale(1,1.100)">341.8</text><text x="234.40" y="215.00" font-size="14.30" fill="#000">G240C</text><text x="279.60" y="362.00" font-size="8.80" fill="#1a1a1a" stroke="#1a1a1a" stroke-width="0.25">MF<tspan font-size="6.00" dy="-4.30" stroke-width="0.08">SDS</tspan></text><text x="0" y="0" font-size="9.80" fill="#1a1a1a" text-anchor="middle" dominant-baseline="central" transform="translate(195.80,269.00) rotate(-90) scale(1.02,0.88)">&lt;&#955;&gt;(nm)</text></g>
<g><polyline points="415.70,294.23 416.38,294.73 417.07,295.29 417.75,295.93 418.44,296.66 419.12,297.47 419.80,298.37 420.49,299.35 421.17,300.42 421.86,301.55 422.54,302.74 423.22,303.98 423.91,305.23 424.59,306.49 425.28,307.73 425.96,308.93 426.64,310.08 427.33,311.17 428.01,312.17 428.70,313.10 429.38,313.93 430.06,314.68 430.75,315.34 431.43,315.93 432.12,316.44 432.80,316.88 433.48,317.27 434.17,317.60 434.85,317.88 435.54,318.12 436.22,318.32 436.90,318.49 437.59,318.64 438.27,318.76 438.96,318.86 439.64,318.95 440.32,319.02 441.01,319.08 441.69,319.14 442.38,319.18 443.06,319.21 443.74,319.24 444.43,319.27 445.11,319.29 445.80,319.31 446.48,319.32 447.16,319.34 447.85,319.35 448.53,319.35 449.22,319.36 449.90,319.37 450.58,319.37 451.27,319.37 451.95,319.38 452.64,319.38 453.32,319.38 454.00,319.38 454.69,319.38 455.37,319.38 456.06,319.38 456.74,319.38 457.42,319.38 458.11,319.38 458.79,319.38 459.48,319.37 460.16,319.37 460.84,319.37 461.53,319.36 462.21,319.36 462.90,319.35 463.58,319.34 464.26,319.34 464.95,319.33 465.63,319.32 466.32,319.30 467.00,319.29 467.68,319.27 468.37,319.25 469.05,319.23 469.74,319.20 470.42,319.17 471.10,319.14 471.79,319.10 472.47,319.05 473.16,319.00 473.84,318.94 474.52,318.87 475.21,318.79 475.89,318.70 476.58,318.59 477.26,318.47 477.94,318.33 478.63,318.17 479.31,317.98 480.00,317.76 480.68,317.52 481.36,317.24 482.05,316.91 482.73,316.54 483.42,316.12 484.10,315.63 484.78,315.08 485.47,314.45 486.15,313.73 486.84,312.91 487.52,311.99 488.20,310.94 488.89,309.76 489.57,308.44 490.26,306.96 490.94,305.30 491.62,303.46 492.31,301.43 492.99,299.20 493.68,296.76 494.36,294.11 495.04,291.25 495.73,288.19 496.41,284.95 497.10,281.54 497.78,277.98 498.46,274.30 499.15,270.54 499.83,266.74 500.52,262.92 501.20,259.13 501.88,255.41 502.57,251.79 503.25,248.31 503.94,244.98 504.62,241.83 505.30,238.87 505.99,236.12 506.67,233.58 507.36,231.24 508.04,229.11 508.72,227.18 509.41,225.44 510.09,223.87 510.78,222.47 511.46,221.22 512.14,220.11 512.83,219.13 513.51,218.26 514.20,217.49 514.88,216.82 515.56,216.23 516.25,215.71 516.93,215.26 517.62,214.86 518.30,214.52 518.98,214.22 519.67,213.95 520.35,213.72 521.04,213.52 521.72,213.35 522.40,213.20 523.09,213.07 523.77,212.95 524.46,212.85 525.14,212.77 525.82,212.69 526.51,212.63 527.19,212.57 527.88,212.52 528.56,212.48 529.24,212.44 529.93,212.41 530.61,212.38 531.30,212.36 531.98,212.34 532.66,212.32 533.35,212.30 534.03,212.29 534.72,212.28 535.40,212.27 536.08,212.26 536.77,212.25 537.45,212.24 538.14,212.24 538.82,212.23 539.50,212.23 540.19,212.22 540.87,212.22 541.56,212.22 542.24,212.22 542.92,212.21 543.61,212.21 544.29,212.21 544.98,212.21 545.66,212.21 546.34,212.21 547.03,212.21 547.71,212.21 548.40,212.20 549.08,212.20 549.76,212.20 550.45,212.20 551.13,212.20 551.82,212.20 552.50,212.20" fill="none" stroke="#c85a64" stroke-width="1" stroke-linejoin="round"/><rect x="415.50" y="198.50" width="140.00" height="140.00" fill="none" stroke="#7c7c7c" stroke-width="1.1"/><line x1="433.00" y1="338.50" x2="433.00" y2="335.50" stroke="#404040" stroke-width="1"/><line x1="433.00" y1="198.50" x2="433.00" y2="201.50" stroke="#404040" stroke-width="1"/><line x1="450.50" y1="338.50" x2="450.50" y2="335.50" stroke="#404040" stroke-width="1"/><line x1="450.50" y1="198.50" x2="450.50" y2="201.50" stroke="#404040" stroke-width="1"/><line x1="468.00" y1="338.50" x2="468.00" y2="335.50" stroke="#404040" stroke-width="1"/><line x1="468.00" y1="198.50" x2="468.00" y2="201.50" stroke="#404040" stroke-width="1"/><line x1="485.50" y1="338.50" x2="485.50" y2="335.50" stroke="#404040" stroke-width="1"/><line x1="485.50" y1="198.50" x2="485.50" y2="201.50" stroke="#404040" stroke-width="1"/><line x1="503.00" y1="338.50" x2="503.00" y2="335.50" stroke="#404040" stroke-width="1"/><line x1="503.00" y1="198.50" x2="503.00" y2="201.50" stroke="#404040" stroke-width="1"/><line x1="520.50" y1="338.50" x2="520.50" y2="335.50" stroke="#404040" stroke-width="1"/><line x1="520.50" y1="198.50" x2="520.50" y2="201.50" stroke="#404040" stroke-width="1"/><line x1="538.00" y1="338.50" x2="538.00" y2="335.50" stroke="#404040" stroke-width="1"/><line x1="538.00" y1="198.50" x2="538.00" y2="201.50" stroke="#404040" stroke-width="1"/><line x1="415.50" y1="315.57" x2="418.50" y2="315.57" stroke="#8080e8" stroke-width="1"/><line x1="555.50" y1="315.57" x2="552.50" y2="315.57" stroke="#8080e8" stroke-width="1"/><line x1="415.50" y1="292.23" x2="418.50" y2="292.23" stroke="#8080e8" stroke-width="1"/><line x1="555.50" y1="292.23" x2="552.50" y2="292.23" stroke="#8080e8" stroke-width="1"/><line x1="415.50" y1="268.90" x2="418.50" y2="268.90" stroke="#8080e8" stroke-width="1"/><line x1="555.50" y1="268.90" x2="552.50" y2="268.90" stroke="#8080e8" stroke-width="1"/><line x1="415.50" y1="245.57" x2="418.50" y2="245.57" stroke="#8080e8" stroke-width="1"/><line x1="555.50" y1="245.57" x2="552.50" y2="245.57" stroke="#8080e8" stroke-width="1"/><line x1="415.50" y1="222.23" x2="418.50" y2="222.23" stroke="#8080e8" stroke-width="1"/><line x1="555.50" y1="222.23" x2="552.50" y2="222.23" stroke="#8080e8" stroke-width="1"/><circle cx="415.7" cy="292.2" r="1.80" fill="#000"/><circle cx="420.7" cy="297.0" r="1.80" fill="#000"/><circle cx="424.0" cy="313.1" r="1.80" fill="#000"/><circle cx="429.3" cy="315.2" r="1.80" fill="#000"/><circle cx="433.1" cy="305.0" r="1.80" fill="#000"/><circle cx="436.5" cy="323.5" r="1.80" fill="#000"/><circle cx="440.1" cy="319.0" r="1.80" fill="#000"/><circle cx="447.2" cy="317.9" r="1.80" fill="#000"/><circle cx="450.6" cy="326.2" r="1.80" fill="#000"/><circle cx="455.6" cy="316.7" r="1.80" fill="#000"/><circle cx="459.2" cy="314.3" r="1.80" fill="#000"/><circle cx="464.6" cy="321.5" r="1.80" fill="#000"/><circle cx="469.6" cy="328.3" r="1.80" fill="#000"/><circle cx="473.0" cy="320.1" r="1.80" fill="#000"/><circle cx="476.5" cy="315.4" r="1.80" fill="#000"/><circle cx="482.1" cy="313.3" r="1.80" fill="#000"/><circle cx="487.3" cy="307.4" r="1.80" fill="#000"/><circle cx="490.6" cy="305.0" r="1.80" fill="#000"/><circle cx="493.9" cy="293.4" r="1.80" fill="#000"/><circle cx="499.8" cy="276.9" r="1.80" fill="#000"/><circle cx="503.0" cy="246.5" r="1.80" fill="#000"/><circle cx="508.3" cy="227.8" r="1.80" fill="#000"/><circle cx="511.6" cy="220.9" r="1.80" fill="#000"/><circle cx="517.2" cy="223.3" r="1.80" fill="#000"/><circle cx="520.5" cy="209.3" r="1.80" fill="#000"/><circle cx="525.7" cy="214.0" r="1.80" fill="#000"/><circle cx="529.2" cy="209.4" r="1.80" fill="#000"/><circle cx="534.7" cy="218.7" r="1.80" fill="#000"/><circle cx="538.3" cy="212.7" r="1.80" fill="#000"/><circle cx="543.3" cy="211.7" r="1.80" fill="#000"/><circle cx="546.9" cy="221.0" r="1.80" fill="#000"/><circle cx="552.2" cy="202.3" r="1.80" fill="#000"/><text font-size="6.80" fill="#2a2a2a" stroke="#2a2a2a" stroke-width="0.10" text-anchor="middle" transform="translate(415.50,345.40) scale(1,1.100)">0</text><text font-size="6.80" fill="#2a2a2a" stroke="#2a2a2a" stroke-width="0.10" text-anchor="middle" transform="translate(433.00,345.40) scale(1,1.100)">0.1</text><text font-size="6.80" fill="#2a2a2a" stroke="#2a2a2a" stroke-width="0.10" text-anchor="middle" transform="translate(450.50,345.40) scale(1,1.100)">0.2</text><text font-size="6.80" fill="#2a2a2a" stroke="#2a2a2a" stroke-width="0.10" text-anchor="middle" transform="translate(468.00,345.40) scale(1,1.100)">0.3</text><text font-size="6.80" fill="#2a2a2a" stroke="#2a2a2a" stroke-width="0.10" text-anchor="middle" transform="translate(485.50,345.40) scale(1,1.100)">0.4</text><text font-size="6.80" fill="#2a2a2a" stroke="#2a2a2a" stroke-width="0.10" text-anchor="middle" transform="translate(503.00,345.40) scale(1,1.100)">0.5</text><text font-size="6.80" fill="#2a2a2a" stroke="#2a2a2a" stroke-width="0.10" text-anchor="middle" transform="translate(520.50,345.40) scale(1,1.100)">0.6</text><text font-size="6.80" fill="#2a2a2a" stroke="#2a2a2a" stroke-width="0.10" text-anchor="middle" transform="translate(538.00,345.40) scale(1,1.100)">0.7</text><text font-size="6.80" fill="#2a2a2a" stroke="#2a2a2a" stroke-width="0.10" text-anchor="middle" transform="translate(555.50,345.40) scale(1,1.100)">0.8</text><text font-size="6.80" fill="#2a2a2a" stroke="#2a2a2a" stroke-width="0.10" text-anchor="end" transform="translate(412.00,340.20) scale(1,1.100)">340.6</text><text font-size="6.80" fill="#2a2a2a" stroke="#2a2a2a" stroke-width="0.10" text-anchor="end" transform="translate(412.00,316.87) scale(1,1.100)">340.8</text><text font-size="6.80" fill="#2a2a2a" stroke="#2a2a2a" stroke-width="0.10" text-anchor="end" transform="translate(412.00,293.53) scale(1,1.100)">341</text><text font-size="6.80" fill="#2a2a2a" stroke="#2a2a2a" stroke-width="0.10" text-anchor="end" transform="translate(412.00,270.20) scale(1,1.100)">341.2</text><text font-size="6.80" fill="#2a2a2a" stroke="#2a2a2a" stroke-width="0.10" text-anchor="end" transform="translate(412.00,246.87) scale(1,1.100)">341.4</text><text font-size="6.80" fill="#2a2a2a" stroke="#2a2a2a" stroke-width="0.10" text-anchor="end" transform="translate(412.00,223.53) scale(1,1.100)">341.6</text><text font-size="6.80" fill="#2a2a2a" stroke="#2a2a2a" stroke-width="0.10" text-anchor="end" transform="translate(412.00,200.20) scale(1,1.100)">341.8</text><text x="421.40" y="214.10" font-size="14.20" fill="#000">V260C</text><text x="468.40" y="359.60" font-size="8.80" fill="#1a1a1a" stroke="#1a1a1a" stroke-width="0.25">MF<tspan font-size="6.00" dy="-4.70" stroke-width="0.08">SDS</tspan></text><text x="0" y="0" font-size="9.60" fill="#1a1a1a" text-anchor="middle" dominant-baseline="central" transform="translate(384.30,265.00) rotate(-90) scale(1.02,0.88)">&lt;&#955;&gt;(nm)</text></g>
<g><polyline points="606.80,304.20 607.47,306.22 608.15,308.08 608.82,309.80 609.50,311.37 610.17,312.82 610.85,314.15 611.52,315.38 612.20,316.51 612.88,317.55 613.55,318.50 614.22,319.38 614.90,320.19 615.57,320.94 616.25,321.62 616.92,322.25 617.60,322.83 618.27,323.36 618.95,323.85 619.62,324.31 620.30,324.72 620.97,325.10 621.65,325.45 622.32,325.78 623.00,326.08 623.67,326.35 624.35,326.60 625.02,326.83 625.70,327.05 626.38,327.24 627.05,327.42 627.72,327.59 628.40,327.74 629.07,327.88 629.75,328.01 630.42,328.13 631.10,328.24 631.77,328.34 632.45,328.43 633.12,328.52 633.80,328.60 634.47,328.67 635.15,328.73 635.82,328.80 636.50,328.85 637.17,328.90 637.85,328.95 638.52,328.99 639.20,329.03 639.88,329.07 640.55,329.10 641.22,329.14 641.90,329.16 642.57,329.19 643.25,329.21 643.92,329.23 644.60,329.25 645.27,329.27 645.95,329.29 646.62,329.30 647.30,329.32 647.97,329.33 648.65,329.34 649.32,329.35 650.00,329.36 650.67,329.36 651.35,329.37 652.02,329.37 652.70,329.38 653.38,329.38 654.05,329.38 654.72,329.38 655.40,329.38 656.07,329.37 656.75,329.37 657.42,329.36 658.10,329.36 658.77,329.35 659.45,329.33 660.12,329.32 660.80,329.30 661.47,329.28 662.15,329.26 662.82,329.23 663.50,329.20 664.17,329.17 664.85,329.12 665.52,329.08 666.20,329.02 666.88,328.96 667.55,328.89 668.22,328.81 668.90,328.72 669.57,328.62 670.25,328.50 670.92,328.37 671.60,328.22 672.27,328.05 672.95,327.85 673.62,327.63 674.30,327.38 674.97,327.10 675.65,326.78 676.32,326.42 677.00,326.01 677.67,325.55 678.35,325.04 679.02,324.46 679.70,323.80 680.38,323.07 681.05,322.25 681.72,321.33 682.40,320.31 683.07,319.18 683.75,317.92 684.42,316.53 685.10,315.00 685.77,313.31 686.45,311.47 687.12,309.47 687.80,307.30 688.47,304.96 689.15,302.46 689.82,299.79 690.50,296.97 691.17,294.01 691.85,290.91 692.52,287.71 693.20,284.41 693.88,281.06 694.55,277.66 695.22,274.26 695.90,270.87 696.57,267.52 697.25,264.25 697.92,261.07 698.60,258.01 699.27,255.08 699.95,252.30 700.62,249.67 701.30,247.21 701.97,244.92 702.65,242.79 703.32,240.83 704.00,239.04 704.67,237.39 705.35,235.90 706.02,234.54 706.70,233.31 707.38,232.21 708.05,231.22 708.72,230.33 709.40,229.53 710.07,228.82 710.75,228.18 711.42,227.62 712.10,227.12 712.77,226.67 713.45,226.28 714.12,225.93 714.80,225.62 715.47,225.34 716.15,225.10 716.82,224.89 717.50,224.70 718.17,224.53 718.85,224.39 719.52,224.26 720.20,224.14 720.88,224.04 721.55,223.95 722.22,223.87 722.90,223.81 723.57,223.75 724.25,223.69 724.92,223.64 725.60,223.60 726.27,223.57 726.95,223.53 727.62,223.51 728.30,223.48 728.97,223.46 729.65,223.44 730.32,223.42 731.00,223.41 731.67,223.40 732.35,223.38 733.02,223.37 733.70,223.37 734.38,223.36 735.05,223.35 735.72,223.34 736.40,223.34 737.07,223.33 737.75,223.33 738.42,223.33 739.10,223.32 739.77,223.32 740.45,223.32 741.12,223.32 741.80,223.31" fill="none" stroke="#c85a64" stroke-width="1" stroke-linejoin="round"/><rect x="607.00" y="198.50" width="140.20" height="140.00" fill="none" stroke="#7c7c7c" stroke-width="1.1"/><line x1="624.52" y1="338.50" x2="624.52" y2="335.50" stroke="#404040" stroke-width="1"/><line x1="624.52" y1="198.50" x2="624.52" y2="201.50" stroke="#404040" stroke-width="1"/><line x1="642.05" y1="338.50" x2="642.05" y2="335.50" stroke="#404040" stroke-width="1"/><line x1="642.05" y1="198.50" x2="642.05" y2="201.50" stroke="#404040" stroke-width="1"/><line x1="659.58" y1="338.50" x2="659.58" y2="335.50" stroke="#404040" stroke-width="1"/><line x1="659.58" y1="198.50" x2="659.58" y2="201.50" stroke="#404040" stroke-width="1"/><line x1="677.10" y1="338.50" x2="677.10" y2="335.50" stroke="#404040" stroke-width="1"/><line x1="677.10" y1="198.50" x2="677.10" y2="201.50" stroke="#404040" stroke-width="1"/><line x1="694.62" y1="338.50" x2="694.62" y2="335.50" stroke="#404040" stroke-width="1"/><line x1="694.62" y1="198.50" x2="694.62" y2="201.50" stroke="#404040" stroke-width="1"/><line x1="712.15" y1="338.50" x2="712.15" y2="335.50" stroke="#404040" stroke-width="1"/><line x1="712.15" y1="198.50" x2="712.15" y2="201.50" stroke="#404040" stroke-width="1"/><line x1="729.68" y1="338.50" x2="729.68" y2="335.50" stroke="#404040" stroke-width="1"/><line x1="729.68" y1="198.50" x2="729.68" y2="201.50" stroke="#404040" stroke-width="1"/><line x1="607.00" y1="318.50" x2="610.00" y2="318.50" stroke="#8080e8" stroke-width="1"/><line x1="747.20" y1="318.50" x2="744.20" y2="318.50" stroke="#8080e8" stroke-width="1"/><line x1="607.00" y1="298.50" x2="610.00" y2="298.50" stroke="#8080e8" stroke-width="1"/><line x1="747.20" y1="298.50" x2="744.20" y2="298.50" stroke="#8080e8" stroke-width="1"/><line x1="607.00" y1="278.50" x2="610.00" y2="278.50" stroke="#8080e8" stroke-width="1"/><line x1="747.20" y1="278.50" x2="744.20" y2="278.50" stroke="#8080e8" stroke-width="1"/><line x1="607.00" y1="258.50" x2="610.00" y2="258.50" stroke="#8080e8" stroke-width="1"/><line x1="747.20" y1="258.50" x2="744.20" y2="258.50" stroke="#8080e8" stroke-width="1"/><line x1="607.00" y1="238.50" x2="610.00" y2="238.50" stroke="#8080e8" stroke-width="1"/><line x1="747.20" y1="238.50" x2="744.20" y2="238.50" stroke="#8080e8" stroke-width="1"/><line x1="607.00" y1="218.50" x2="610.00" y2="218.50" stroke="#8080e8" stroke-width="1"/><line x1="747.20" y1="218.50" x2="744.20" y2="218.50" stroke="#8080e8" stroke-width="1"/><circle cx="606.8" cy="310.8" r="1.80" fill="#000"/><circle cx="610.4" cy="310.8" r="1.80" fill="#000"/><circle cx="615.6" cy="319.7" r="1.80" fill="#000"/><circle cx="619.0" cy="327.9" r="1.80" fill="#000"/><circle cx="622.4" cy="333.5" r="1.80" fill="#000"/><circle cx="629.5" cy="330.6" r="1.80" fill="#000"/><circle cx="632.9" cy="331.9" r="1.80" fill="#000"/><circle cx="636.7" cy="329.7" r="1.80" fill="#000"/><circle cx="641.9" cy="333.1" r="1.80" fill="#000"/><circle cx="645.3" cy="328.5" r="1.80" fill="#000"/><circle cx="650.6" cy="329.7" r="1.80" fill="#000"/><circle cx="656.0" cy="326.9" r="1.80" fill="#000"/><circle cx="659.6" cy="329.7" r="1.80" fill="#000"/><circle cx="664.6" cy="328.3" r="1.80" fill="#000"/><circle cx="668.0" cy="327.9" r="1.80" fill="#000"/><circle cx="671.6" cy="326.9" r="1.80" fill="#000"/><circle cx="675.1" cy="325.8" r="1.80" fill="#000"/><circle cx="681.8" cy="321.9" r="1.80" fill="#000"/><circle cx="685.1" cy="314.0" r="1.80" fill="#000"/><circle cx="690.8" cy="297.5" r="1.80" fill="#000"/><circle cx="692.2" cy="297.5" r="1.80" fill="#000"/><circle cx="698.1" cy="263.7" r="1.80" fill="#000"/><circle cx="701.5" cy="248.0" r="1.80" fill="#000"/><circle cx="708.3" cy="238.7" r="1.80" fill="#000"/><circle cx="711.9" cy="223.6" r="1.80" fill="#000"/><circle cx="717.1" cy="227.9" r="1.80" fill="#000"/><circle cx="720.5" cy="221.8" r="1.80" fill="#000"/><circle cx="724.0" cy="227.0" r="1.80" fill="#000"/><circle cx="729.4" cy="223.6" r="1.80" fill="#000"/><circle cx="733.2" cy="224.9" r="1.80" fill="#000"/><circle cx="738.0" cy="225.8" r="1.80" fill="#000"/><circle cx="741.6" cy="215.9" r="1.80" fill="#000"/><text font-size="6.75" fill="#2a2a2a" stroke="#2a2a2a" stroke-width="0.10" text-anchor="middle" transform="translate(607.00,345.40) scale(1,1.100)">0</text><text font-size="6.75" fill="#2a2a2a" stroke="#2a2a2a" stroke-width="0.10" text-anchor="middle" transform="translate(624.52,345.40) scale(1,1.100)">0.1</text><text font-size="6.75" fill="#2a2a2a" stroke="#2a2a2a" stroke-width="0.10" text-anchor="middle" transform="translate(642.05,345.40) scale(1,1.100)">0.2</text><text font-size="6.75" fill="#2a2a2a" stroke="#2a2a2a" stroke-width="0.10" text-anchor="middle" transform="translate(659.58,345.40) scale(1,1.100)">0.3</text><text font-size="6.75" fill="#2a2a2a" stroke="#2a2a2a" stroke-width="0.10" text-anchor="middle" transform="translate(677.10,345.40) scale(1,1.100)">0.4</text><text font-size="6.75" fill="#2a2a2a" stroke="#2a2a2a" stroke-width="0.10" text-anchor="middle" transform="translate(694.62,345.40) scale(1,1.100)">0.5</text><text font-size="6.75" fill="#2a2a2a" stroke="#2a2a2a" stroke-width="0.10" text-anchor="middle" transform="translate(712.15,345.40) scale(1,1.100)">0.6</text><text font-size="6.75" fill="#2a2a2a" stroke="#2a2a2a" stroke-width="0.10" text-anchor="middle" transform="translate(729.68,345.40) scale(1,1.100)">0.7</text><text font-size="6.75" fill="#2a2a2a" stroke="#2a2a2a" stroke-width="0.10" text-anchor="middle" transform="translate(747.20,345.40) scale(1,1.100)">0.8</text><text font-size="6.75" fill="#2a2a2a" stroke="#2a2a2a" stroke-width="0.10" text-anchor="end" transform="translate(603.50,340.20) scale(1,1.100)">340.8</text><text font-size="6.75" fill="#2a2a2a" stroke="#2a2a2a" stroke-width="0.10" text-anchor="end" transform="translate(603.50,320.20) scale(1,1.100)">341</text><text font-size="6.75" fill="#2a2a2a" stroke="#2a2a2a" stroke-width="0.10" text-anchor="end" transform="translate(603.50,300.20) scale(1,1.100)">341.2</text><text font-size="6.75" fill="#2a2a2a" stroke="#2a2a2a" stroke-width="0.10" text-anchor="end" transform="translate(603.50,280.20) scale(1,1.100)">341.4</text><text font-size="6.75" fill="#2a2a2a" stroke="#2a2a2a" stroke-width="0.10" text-anchor="end" transform="translate(603.50,260.20) scale(1,1.100)">341.6</text><text font-size="6.75" fill="#2a2a2a" stroke="#2a2a2a" stroke-width="0.10" text-anchor="end" transform="translate(603.50,240.20) scale(1,1.100)">341.8</text><text font-size="6.75" fill="#2a2a2a" stroke="#2a2a2a" stroke-width="0.10" text-anchor="end" transform="translate(603.50,220.20) scale(1,1.100)">342</text><text font-size="6.75" fill="#2a2a2a" stroke="#2a2a2a" stroke-width="0.10" text-anchor="end" transform="translate(603.50,200.20) scale(1,1.100)">342.2</text><text x="613.00" y="214.30" font-size="14.10" fill="#000">Cys-less</text><text x="658.40" y="359.60" font-size="8.80" fill="#1a1a1a" stroke="#1a1a1a" stroke-width="0.25">MF<tspan font-size="6.00" dy="-4.90" stroke-width="0.08">SDS</tspan></text><text x="0" y="0" font-size="9.60" fill="#1a1a1a" text-anchor="middle" dominant-baseline="central" transform="translate(574.50,265.00) rotate(-90) scale(1.02,0.88)">&lt;&#955;&gt;(nm)</text></g>
</svg></body></html>
